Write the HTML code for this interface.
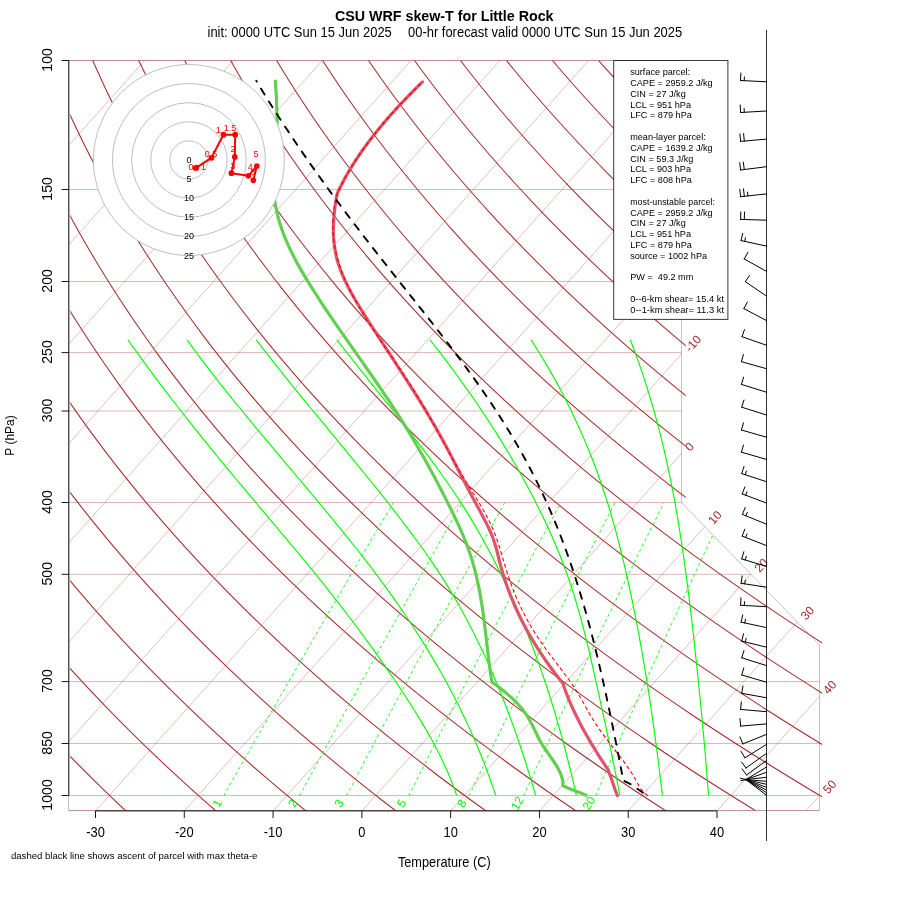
<!DOCTYPE html>
<html><head><meta charset="utf-8"><style>html,body{margin:0;padding:0;background:#fff;}svg{display:block;will-change:transform;}</style></head><body>
<svg width="900" height="900" viewBox="0 0 900 900" font-family="&quot;Liberation Sans&quot;, Arial, sans-serif">
<defs>
<clipPath id="cp"><polygon points="68.50,60.50 681.50,60.50 681.50,502.50 819.50,645.00 819.50,810.60 68.50,810.60"/></clipPath>
<clipPath id="cpi"><polygon points="67.50,59.50 681.50,59.50 681.50,503.10 819.50,645.60 819.50,811.60 67.50,811.60"/></clipPath>
<clipPath id="cpd"><polygon points="70.20,60.50 685.80,60.50 685.80,498.00 822.00,640.50 822.00,810.60 70.20,810.60"/></clipPath>
</defs>
<rect width="900" height="900" fill="#fff"/>
<polygon points="68.50,60.50 681.50,60.50 681.50,502.50 819.50,645.00 819.50,810.60 68.50,810.60" fill="none" stroke="#C4C4C4" stroke-width="1"/>
<g clip-path="url(#cpi)" stroke="#A52A2A" stroke-opacity="0.34" stroke-width="1" fill="none">
<line x1="68.5" y1="60.50" x2="830" y2="60.50"/>
<line x1="68.5" y1="189.50" x2="830" y2="189.50"/>
<line x1="68.5" y1="281.50" x2="830" y2="281.50"/>
<line x1="68.5" y1="352.60" x2="830" y2="352.60"/>
<line x1="68.5" y1="411.00" x2="830" y2="411.00"/>
<line x1="68.5" y1="502.50" x2="830" y2="502.50"/>
<line x1="68.5" y1="574.30" x2="830" y2="574.30"/>
<line x1="68.5" y1="681.60" x2="830" y2="681.60"/>
<line x1="68.5" y1="743.50" x2="830" y2="743.50"/>
<line x1="68.5" y1="795.50" x2="830" y2="795.50"/>
<line x1="68.5" y1="810.60" x2="830" y2="810.60"/>
</g>
<g clip-path="url(#cp)" stroke="#A52A2A" stroke-opacity="0.3" stroke-width="1" fill="none">
<line x1="-614.83" y1="810.97" x2="56.11" y2="60.22"/>
<line x1="-526.04" y1="810.97" x2="144.90" y2="60.22"/>
<line x1="-437.25" y1="810.97" x2="233.69" y2="60.22"/>
<line x1="-348.46" y1="810.97" x2="322.48" y2="60.22"/>
<line x1="-259.67" y1="810.97" x2="411.27" y2="60.22"/>
<line x1="-170.88" y1="810.97" x2="500.06" y2="60.22"/>
<line x1="-82.09" y1="810.97" x2="588.85" y2="60.22"/>
<line x1="6.70" y1="810.97" x2="677.64" y2="60.22"/>
<line x1="95.49" y1="810.97" x2="766.43" y2="60.22"/>
<line x1="184.28" y1="810.97" x2="855.22" y2="60.22"/>
<line x1="273.07" y1="810.97" x2="944.01" y2="60.22"/>
<line x1="361.86" y1="810.97" x2="1032.80" y2="60.22"/>
<line x1="450.65" y1="810.97" x2="1121.59" y2="60.22"/>
<line x1="539.44" y1="810.97" x2="1210.38" y2="60.22"/>
<line x1="628.23" y1="810.97" x2="1299.17" y2="60.22"/>
<line x1="717.02" y1="810.97" x2="1387.96" y2="60.22"/>
<line x1="805.81" y1="810.97" x2="1476.75" y2="60.22"/>
</g>
<g clip-path="url(#cpd)" stroke="#A52A2A" stroke-width="1.05" fill="none">
<path d="M125.83,810.97 L115.76,801.46 L105.86,791.96 L96.10,782.46 L86.51,772.96 L77.07,763.45 L67.77,753.95 L58.63,744.45 L49.64,734.94 L40.80,725.44 L32.11,715.94 L23.56,706.43 L15.15,696.93 L6.89,687.43 L-1.23,677.92 L-9.21,668.42 L-17.05,658.92 L-24.75,649.41 L-32.32,639.91 L-39.74,630.41 L-47.04,620.91 L-54.20,611.40 L-61.22,601.90 L-68.12,592.40 L-74.88,582.89 L-81.52,573.39 L-88.02,563.89 L-94.40,554.38 L-100.66,544.88 L-106.79,535.38 L-112.79,525.87 L-118.67,516.37 L-124.43,506.87 L-130.07,497.36 L-135.59,487.86 L-140.99,478.36 L-146.28,468.85 L-151.44,459.35 L-156.49,449.85 L-161.43,440.35 L-166.25,430.84 L-170.96,421.34 L-175.56,411.84 L-180.04,402.33 L-184.42,392.83 L-188.68,383.33 L-192.84,373.82 L-196.89,364.32 L-200.84,354.82 L-204.68,345.31 L-208.42,335.81 L-212.05,326.31 L-215.58,316.80 L-219.00,307.30 L-222.33,297.80 L-225.55,288.30 L-228.68,278.79 L-231.71,269.29 L-234.64,259.79 L-237.47,250.28 L-240.21,240.78 L-242.85,231.28 L-245.40,221.77 L-247.85,212.27 L-250.21,202.77 L-252.48,193.26 L-254.66,183.76 L-256.75,174.26 L-258.75,164.75 L-260.66,155.25 L-262.48,145.75 L-264.21,136.25 L-265.86,126.74 L-267.42,117.24 L-268.89,107.74 L-270.29,98.23 L-271.59,88.73 L-272.82,79.23 L-273.96,69.72 L-275.02,60.22"/>
<path d="M215.86,810.97 L205.04,801.46 L194.37,791.96 L183.87,782.46 L173.53,772.96 L163.35,763.45 L153.33,753.95 L143.46,744.45 L133.75,734.94 L124.20,725.44 L114.80,715.94 L105.54,706.43 L96.44,696.93 L87.49,687.43 L78.69,677.92 L70.03,668.42 L61.52,658.92 L53.15,649.41 L44.93,639.91 L36.85,630.41 L28.90,620.91 L21.10,611.40 L13.44,601.90 L5.91,592.40 L-1.48,582.89 L-8.74,573.39 L-15.86,563.89 L-22.86,554.38 L-29.72,544.88 L-36.45,535.38 L-43.05,525.87 L-49.52,516.37 L-55.87,506.87 L-62.09,497.36 L-68.18,487.86 L-74.15,478.36 L-80.00,468.85 L-85.73,459.35 L-91.34,449.85 L-96.83,440.35 L-102.20,430.84 L-107.45,421.34 L-112.58,411.84 L-117.60,402.33 L-122.51,392.83 L-127.30,383.33 L-131.98,373.82 L-136.55,364.32 L-141.00,354.82 L-145.35,345.31 L-149.59,335.81 L-153.72,326.31 L-157.74,316.80 L-161.66,307.30 L-165.47,297.80 L-169.18,288.30 L-172.78,278.79 L-176.28,269.29 L-179.68,259.79 L-182.98,250.28 L-186.18,240.78 L-189.28,231.28 L-192.28,221.77 L-195.19,212.27 L-198.00,202.77 L-200.71,193.26 L-203.33,183.76 L-205.85,174.26 L-208.28,164.75 L-210.61,155.25 L-212.86,145.75 L-215.01,136.25 L-217.08,126.74 L-219.05,117.24 L-220.94,107.74 L-222.74,98.23 L-224.45,88.73 L-226.07,79.23 L-227.61,69.72 L-229.06,60.22"/>
<path d="M305.90,810.97 L294.31,801.46 L282.89,791.96 L271.64,782.46 L260.56,772.96 L249.64,763.45 L238.88,753.95 L228.29,744.45 L217.86,734.94 L207.60,725.44 L197.49,715.94 L187.53,706.43 L177.74,696.93 L168.10,687.43 L158.61,677.92 L149.28,668.42 L140.09,658.92 L131.06,649.41 L122.18,639.91 L113.44,630.41 L104.85,620.91 L96.40,611.40 L88.10,601.90 L79.94,592.40 L71.92,582.89 L64.04,573.39 L56.30,563.89 L48.69,554.38 L41.23,544.88 L33.90,535.38 L26.70,525.87 L19.63,516.37 L12.70,506.87 L5.90,497.36 L-0.77,487.86 L-7.32,478.36 L-13.73,468.85 L-20.02,459.35 L-26.19,449.85 L-32.23,440.35 L-38.14,430.84 L-43.94,421.34 L-49.61,411.84 L-55.16,402.33 L-60.60,392.83 L-65.92,383.33 L-71.11,373.82 L-76.20,364.32 L-81.17,354.82 L-86.02,345.31 L-90.76,335.81 L-95.39,326.31 L-99.91,316.80 L-104.31,307.30 L-108.61,297.80 L-112.80,288.30 L-116.88,278.79 L-120.86,269.29 L-124.73,259.79 L-128.49,250.28 L-132.16,240.78 L-135.71,231.28 L-139.17,221.77 L-142.52,212.27 L-145.78,202.77 L-148.93,193.26 L-151.99,183.76 L-154.95,174.26 L-157.81,164.75 L-160.57,155.25 L-163.24,145.75 L-165.82,136.25 L-168.30,126.74 L-170.69,117.24 L-172.98,107.74 L-175.19,98.23 L-177.30,88.73 L-179.32,79.23 L-181.26,69.72 L-183.10,60.22"/>
<path d="M395.94,810.97 L383.59,801.46 L371.41,791.96 L359.41,782.46 L347.58,772.96 L335.92,763.45 L324.44,753.95 L313.12,744.45 L301.97,734.94 L290.99,725.44 L280.18,715.94 L269.52,706.43 L259.03,696.93 L248.70,687.43 L238.53,677.92 L228.52,668.42 L218.67,658.92 L208.97,649.41 L199.42,639.91 L190.03,630.41 L180.79,620.91 L171.70,611.40 L162.76,601.90 L153.96,592.40 L145.32,582.89 L136.82,573.39 L128.46,563.89 L120.24,554.38 L112.17,544.88 L104.24,535.38 L96.44,525.87 L88.79,516.37 L81.27,506.87 L73.89,497.36 L66.64,487.86 L59.52,478.36 L52.54,468.85 L45.69,459.35 L38.97,449.85 L32.38,440.35 L25.91,430.84 L19.57,421.34 L13.36,411.84 L7.27,402.33 L1.31,392.83 L-4.53,383.33 L-10.25,373.82 L-15.85,364.32 L-21.33,354.82 L-26.69,345.31 L-31.93,335.81 L-37.06,326.31 L-42.07,316.80 L-46.97,307.30 L-51.76,297.80 L-56.43,288.30 L-60.99,278.79 L-65.44,269.29 L-69.78,259.79 L-74.01,250.28 L-78.13,240.78 L-82.15,231.28 L-86.06,221.77 L-89.86,212.27 L-93.56,202.77 L-97.16,193.26 L-100.65,183.76 L-104.05,174.26 L-107.34,164.75 L-110.53,155.25 L-113.62,145.75 L-116.62,136.25 L-119.52,126.74 L-122.32,117.24 L-125.02,107.74 L-127.64,98.23 L-130.15,88.73 L-132.57,79.23 L-134.91,69.72 L-137.14,60.22"/>
<path d="M485.98,810.97 L472.86,801.46 L459.93,791.96 L447.17,782.46 L434.60,772.96 L422.21,763.45 L409.99,753.95 L397.95,744.45 L386.08,734.94 L374.39,725.44 L362.87,715.94 L351.51,706.43 L340.33,696.93 L329.31,687.43 L318.46,677.92 L307.77,668.42 L297.24,658.92 L286.87,649.41 L276.67,639.91 L266.62,630.41 L256.73,620.91 L247.00,611.40 L237.42,601.90 L227.99,592.40 L218.72,582.89 L209.59,573.39 L200.62,563.89 L191.79,554.38 L183.11,544.88 L174.58,535.38 L166.19,525.87 L157.94,516.37 L149.84,506.87 L141.87,497.36 L134.05,487.86 L126.36,478.36 L118.81,468.85 L111.40,459.35 L104.12,449.85 L96.98,440.35 L89.97,430.84 L83.09,421.34 L76.33,411.84 L69.71,402.33 L63.22,392.83 L56.85,383.33 L50.61,373.82 L44.50,364.32 L38.51,354.82 L32.64,345.31 L26.89,335.81 L21.27,326.31 L15.76,316.80 L10.37,307.30 L5.10,297.80 L-0.05,288.30 L-5.09,278.79 L-10.01,269.29 L-14.82,259.79 L-19.52,250.28 L-24.10,240.78 L-28.58,231.28 L-32.94,221.77 L-37.20,212.27 L-41.34,202.77 L-45.38,193.26 L-49.32,183.76 L-53.14,174.26 L-56.87,164.75 L-60.49,155.25 L-64.01,145.75 L-67.42,136.25 L-70.74,126.74 L-73.95,117.24 L-77.07,107.74 L-80.08,98.23 L-83.00,88.73 L-85.83,79.23 L-88.55,69.72 L-91.19,60.22"/>
<path d="M576.02,810.97 L562.13,801.46 L548.44,791.96 L534.94,782.46 L521.63,772.96 L508.49,763.45 L495.55,753.95 L482.78,744.45 L470.19,734.94 L457.79,725.44 L445.56,715.94 L433.50,706.43 L421.62,696.93 L409.91,687.43 L398.38,677.92 L387.01,668.42 L375.81,658.92 L364.78,649.41 L353.92,639.91 L343.21,630.41 L332.67,620.91 L322.30,611.40 L312.08,601.90 L302.02,592.40 L292.12,582.89 L282.37,573.39 L272.78,563.89 L263.34,554.38 L254.06,544.88 L244.92,535.38 L235.93,525.87 L227.10,516.37 L218.41,506.87 L209.86,497.36 L201.46,487.86 L193.20,478.36 L185.09,468.85 L177.11,459.35 L169.28,449.85 L161.58,440.35 L154.02,430.84 L146.60,421.34 L139.31,411.84 L132.15,402.33 L125.13,392.83 L118.24,383.33 L111.48,373.82 L104.85,364.32 L98.35,354.82 L91.97,345.31 L85.72,335.81 L79.59,326.31 L73.59,316.80 L67.72,307.30 L61.96,297.80 L56.32,288.30 L50.81,278.79 L45.41,269.29 L40.13,259.79 L34.97,250.28 L29.92,240.78 L24.99,231.28 L20.17,221.77 L15.47,212.27 L10.87,202.77 L6.39,193.26 L2.02,183.76 L-2.24,174.26 L-6.40,164.75 L-10.45,155.25 L-14.39,145.75 L-18.23,136.25 L-21.96,126.74 L-25.59,117.24 L-29.11,107.74 L-32.53,98.23 L-35.86,88.73 L-39.08,79.23 L-42.20,69.72 L-45.23,60.22"/>
<path d="M666.05,810.97 L651.41,801.46 L636.96,791.96 L622.71,782.46 L608.65,772.96 L594.78,763.45 L581.10,753.95 L567.61,744.45 L554.30,734.94 L541.18,725.44 L528.25,715.94 L515.49,706.43 L502.92,696.93 L490.52,687.43 L478.30,677.92 L466.26,668.42 L454.39,658.92 L442.69,649.41 L431.16,639.91 L419.81,630.41 L408.62,620.91 L397.60,611.40 L386.74,601.90 L376.05,592.40 L365.52,582.89 L355.15,573.39 L344.94,563.89 L334.89,554.38 L325.00,544.88 L315.26,535.38 L305.68,525.87 L296.25,516.37 L286.97,506.87 L277.85,497.36 L268.87,487.86 L260.04,478.36 L251.36,468.85 L242.82,459.35 L234.43,449.85 L226.18,440.35 L218.07,430.84 L210.11,421.34 L202.28,411.84 L194.59,402.33 L187.04,392.83 L179.62,383.33 L172.34,373.82 L165.20,364.32 L158.18,354.82 L151.30,345.31 L144.55,335.81 L137.92,326.31 L131.43,316.80 L125.06,307.30 L118.82,297.80 L112.70,288.30 L106.71,278.79 L100.84,269.29 L95.09,259.79 L89.46,250.28 L83.95,240.78 L78.56,231.28 L73.29,221.77 L68.13,212.27 L63.09,202.77 L58.17,193.26 L53.36,183.76 L48.66,174.26 L44.07,164.75 L39.59,155.25 L35.23,145.75 L30.97,136.25 L26.82,126.74 L22.78,117.24 L18.85,107.74 L15.02,98.23 L11.29,88.73 L7.67,79.23 L4.15,69.72 L0.73,60.22"/>
<path d="M756.09,810.97 L740.68,801.46 L725.48,791.96 L710.48,782.46 L695.67,772.96 L681.07,763.45 L666.66,753.95 L652.44,744.45 L638.41,734.94 L624.58,725.44 L610.94,715.94 L597.48,706.43 L584.21,696.93 L571.12,687.43 L558.22,677.92 L545.50,668.42 L532.96,658.92 L520.60,649.41 L508.41,639.91 L496.40,630.41 L484.56,620.91 L472.89,611.40 L461.40,601.90 L450.08,592.40 L438.92,582.89 L427.93,573.39 L417.10,563.89 L406.44,554.38 L395.94,544.88 L385.60,535.38 L375.43,525.87 L365.41,516.37 L355.54,506.87 L345.83,497.36 L336.28,487.86 L326.88,478.36 L317.63,468.85 L308.53,459.35 L299.58,449.85 L290.78,440.35 L282.13,430.84 L273.62,421.34 L265.25,411.84 L257.03,402.33 L248.95,392.83 L241.01,383.33 L233.21,373.82 L225.55,364.32 L218.02,354.82 L210.63,345.31 L203.37,335.81 L196.25,326.31 L189.26,316.80 L182.40,307.30 L175.67,297.80 L169.08,288.30 L162.60,278.79 L156.26,269.29 L150.04,259.79 L143.95,250.28 L137.98,240.78 L132.13,231.28 L126.40,221.77 L120.80,212.27 L115.31,202.77 L109.94,193.26 L104.69,183.76 L99.56,174.26 L94.54,164.75 L89.64,155.25 L84.85,145.75 L80.17,136.25 L75.60,126.74 L71.15,117.24 L66.80,107.74 L62.57,98.23 L58.44,88.73 L54.42,79.23 L50.50,69.72 L46.69,60.22"/>
<path d="M846.13,810.97 L829.96,801.46 L814.00,791.96 L798.24,782.46 L782.70,772.96 L767.35,763.45 L752.21,753.95 L737.27,744.45 L722.52,734.94 L707.98,725.44 L693.63,715.94 L679.47,706.43 L665.51,696.93 L651.73,687.43 L638.14,677.92 L624.75,668.42 L611.53,658.92 L598.50,649.41 L585.66,639.91 L572.99,630.41 L560.50,620.91 L548.19,611.40 L536.06,601.90 L524.10,592.40 L512.32,582.89 L500.71,573.39 L489.26,563.89 L477.99,554.38 L466.89,544.88 L455.95,535.38 L445.17,525.87 L434.56,516.37 L424.11,506.87 L413.82,497.36 L403.69,487.86 L393.72,478.36 L383.90,468.85 L374.24,459.35 L364.74,449.85 L355.38,440.35 L346.18,430.84 L337.13,421.34 L328.23,411.84 L319.47,402.33 L310.86,392.83 L302.39,383.33 L294.07,373.82 L285.89,364.32 L277.86,354.82 L269.96,345.31 L262.20,335.81 L254.58,326.31 L247.10,316.80 L239.75,307.30 L232.53,297.80 L225.45,288.30 L218.50,278.79 L211.68,269.29 L204.99,259.79 L198.44,250.28 L192.00,240.78 L185.70,231.28 L179.52,221.77 L173.46,212.27 L167.53,202.77 L161.72,193.26 L156.03,183.76 L150.46,174.26 L145.01,164.75 L139.68,155.25 L134.46,145.75 L129.37,136.25 L124.38,126.74 L119.51,117.24 L114.76,107.74 L110.12,98.23 L105.58,88.73 L101.16,79.23 L96.85,69.72 L92.65,60.22"/>
<path d="M936.17,810.97 L919.23,801.46 L902.52,791.96 L886.01,782.46 L869.72,772.96 L853.64,763.45 L837.76,753.95 L822.10,744.45 L806.63,734.94 L791.38,725.44 L776.32,715.94 L761.46,706.43 L746.80,696.93 L732.34,687.43 L718.07,677.92 L703.99,668.42 L690.10,658.92 L676.41,649.41 L662.90,639.91 L649.58,630.41 L636.44,620.91 L623.49,611.40 L610.72,601.90 L598.13,592.40 L585.72,582.89 L573.48,573.39 L561.42,563.89 L549.54,554.38 L537.83,544.88 L526.29,535.38 L514.92,525.87 L503.71,516.37 L492.68,506.87 L481.81,497.36 L471.10,487.86 L460.56,478.36 L450.18,468.85 L439.95,459.35 L429.89,449.85 L419.99,440.35 L410.24,430.84 L400.64,421.34 L391.20,411.84 L381.91,402.33 L372.77,392.83 L363.78,383.33 L354.94,373.82 L346.24,364.32 L337.69,354.82 L329.29,345.31 L321.03,335.81 L312.91,326.31 L304.93,316.80 L297.09,307.30 L289.39,297.80 L281.83,288.30 L274.40,278.79 L267.11,269.29 L259.95,259.79 L252.92,250.28 L246.03,240.78 L239.27,231.28 L232.63,221.77 L226.12,212.27 L219.75,202.77 L213.49,193.26 L207.36,183.76 L201.36,174.26 L195.48,164.75 L189.72,155.25 L184.08,145.75 L178.56,136.25 L173.16,126.74 L167.88,117.24 L162.72,107.74 L157.67,98.23 L152.73,88.73 L147.91,79.23 L143.20,69.72 L138.61,60.22"/>
<path d="M1026.20,810.97 L1008.51,801.46 L991.03,791.96 L973.78,782.46 L956.74,772.96 L939.92,763.45 L923.32,753.95 L906.93,744.45 L890.75,734.94 L874.77,725.44 L859.01,715.94 L843.45,706.43 L828.09,696.93 L812.94,687.43 L797.99,677.92 L783.23,668.42 L768.68,658.92 L754.32,649.41 L740.15,639.91 L726.17,630.41 L712.39,620.91 L698.79,611.40 L685.38,601.90 L672.16,592.40 L659.12,582.89 L646.26,573.39 L633.59,563.89 L621.09,554.38 L608.77,544.88 L596.63,535.38 L584.66,525.87 L572.87,516.37 L561.25,506.87 L549.79,497.36 L538.51,487.86 L527.40,478.36 L516.45,468.85 L505.67,459.35 L495.05,449.85 L484.59,440.35 L474.29,430.84 L464.15,421.34 L454.17,411.84 L444.35,402.33 L434.68,392.83 L425.16,383.33 L415.80,373.82 L406.59,364.32 L397.53,354.82 L388.62,345.31 L379.85,335.81 L371.24,326.31 L362.76,316.80 L354.43,307.30 L346.25,297.80 L338.20,288.30 L330.30,278.79 L322.53,269.29 L314.90,259.79 L307.41,250.28 L300.06,240.78 L292.83,231.28 L285.75,221.77 L278.79,212.27 L271.96,202.77 L265.27,193.26 L258.70,183.76 L252.26,174.26 L245.95,164.75 L239.76,155.25 L233.70,145.75 L227.76,136.25 L221.94,126.74 L216.25,117.24 L210.67,107.74 L205.22,98.23 L199.88,88.73 L194.66,79.23 L189.55,69.72 L184.56,60.22"/>
<path d="M1116.24,810.97 L1097.78,801.46 L1079.55,791.96 L1061.55,782.46 L1043.77,772.96 L1026.21,763.45 L1008.87,753.95 L991.76,744.45 L974.86,734.94 L958.17,725.44 L941.70,715.94 L925.44,706.43 L909.39,696.93 L893.55,687.43 L877.91,677.92 L862.48,668.42 L847.25,658.92 L832.22,649.41 L817.39,639.91 L802.76,630.41 L788.33,620.91 L774.09,611.40 L760.04,601.90 L746.19,592.40 L732.52,582.89 L719.04,573.39 L705.75,563.89 L692.64,554.38 L679.71,544.88 L666.97,535.38 L654.41,525.87 L642.02,516.37 L629.81,506.87 L617.78,497.36 L605.92,487.86 L594.24,478.36 L582.72,468.85 L571.38,459.35 L560.20,449.85 L549.19,440.35 L538.34,430.84 L527.66,421.34 L517.14,411.84 L506.79,402.33 L496.59,392.83 L486.55,383.33 L476.67,373.82 L466.94,364.32 L457.37,354.82 L447.95,345.31 L438.68,335.81 L429.56,326.31 L420.60,316.80 L411.78,307.30 L403.11,297.80 L394.58,288.30 L386.20,278.79 L377.96,269.29 L369.86,259.79 L361.90,250.28 L354.08,240.78 L346.40,231.28 L338.86,221.77 L331.45,212.27 L324.18,202.77 L317.04,193.26 L310.04,183.76 L303.16,174.26 L296.42,164.75 L289.80,155.25 L283.32,145.75 L276.96,136.25 L270.72,126.74 L264.61,117.24 L258.63,107.74 L252.77,98.23 L247.03,88.73 L241.40,79.23 L235.90,69.72 L230.52,60.22"/>
<path d="M1206.28,810.97 L1187.06,801.46 L1168.07,791.96 L1149.31,782.46 L1130.79,772.96 L1112.50,763.45 L1094.43,753.95 L1076.58,744.45 L1058.97,734.94 L1041.57,725.44 L1024.39,715.94 L1007.43,706.43 L990.68,696.93 L974.15,687.43 L957.83,677.92 L941.72,668.42 L925.82,658.92 L910.13,649.41 L894.64,639.91 L879.36,630.41 L864.27,620.91 L849.39,611.40 L834.70,601.90 L820.21,592.40 L805.92,582.89 L791.82,573.39 L777.91,563.89 L764.19,554.38 L750.66,544.88 L737.31,535.38 L724.15,525.87 L711.18,516.37 L698.38,506.87 L685.77,497.36 L673.33,487.86 L661.08,478.36 L648.99,468.85 L637.09,459.35 L625.35,449.85 L613.79,440.35 L602.40,430.84 L591.17,421.34 L580.12,411.84 L569.22,402.33 L558.50,392.83 L547.93,383.33 L537.53,373.82 L527.29,364.32 L517.20,354.82 L507.28,345.31 L497.51,335.81 L487.89,326.31 L478.43,316.80 L469.12,307.30 L459.96,297.80 L450.95,288.30 L442.09,278.79 L433.38,269.29 L424.81,259.79 L416.39,250.28 L408.11,240.78 L399.97,231.28 L391.97,221.77 L384.12,212.27 L376.40,202.77 L368.82,193.26 L361.37,183.76 L354.06,174.26 L346.89,164.75 L339.85,155.25 L332.94,145.75 L326.15,136.25 L319.50,126.74 L312.98,117.24 L306.59,107.74 L300.32,98.23 L294.17,88.73 L288.15,79.23 L282.26,69.72 L276.48,60.22"/>
<path d="M1296.32,810.97 L1276.33,801.46 L1256.59,791.96 L1237.08,782.46 L1217.81,772.96 L1198.78,763.45 L1179.98,753.95 L1161.41,744.45 L1143.08,734.94 L1124.96,725.44 L1107.08,715.94 L1089.42,706.43 L1071.98,696.93 L1054.76,687.43 L1037.75,677.92 L1020.97,668.42 L1004.40,658.92 L988.04,649.41 L971.89,639.91 L955.95,630.41 L940.21,620.91 L924.69,611.40 L909.36,601.90 L894.24,592.40 L879.32,582.89 L864.60,573.39 L850.07,563.89 L835.74,554.38 L821.60,544.88 L807.65,535.38 L793.90,525.87 L780.33,516.37 L766.95,506.87 L753.75,497.36 L740.74,487.86 L727.91,478.36 L715.27,468.85 L702.80,459.35 L690.51,449.85 L678.39,440.35 L666.45,430.84 L654.68,421.34 L643.09,411.84 L631.66,402.33 L620.41,392.83 L609.32,383.33 L598.39,373.82 L587.64,364.32 L577.04,354.82 L566.61,345.31 L556.33,335.81 L546.22,326.31 L536.26,316.80 L526.46,307.30 L516.82,297.80 L507.33,288.30 L497.99,278.79 L488.80,269.29 L479.77,259.79 L470.88,250.28 L462.13,240.78 L453.54,231.28 L445.09,221.77 L436.78,212.27 L428.62,202.77 L420.59,193.26 L412.71,183.76 L404.97,174.26 L397.36,164.75 L389.89,155.25 L382.55,145.75 L375.35,136.25 L368.28,126.74 L361.35,117.24 L354.54,107.74 L347.87,98.23 L341.32,88.73 L334.90,79.23 L328.61,69.72 L322.44,60.22"/>
<path d="M1386.35,810.97 L1365.61,801.46 L1345.10,791.96 L1324.85,782.46 L1304.84,772.96 L1285.07,763.45 L1265.54,753.95 L1246.24,744.45 L1227.19,734.94 L1208.36,725.44 L1189.77,715.94 L1171.41,706.43 L1153.27,696.93 L1135.36,687.43 L1117.68,677.92 L1100.21,668.42 L1082.97,658.92 L1065.94,649.41 L1049.13,639.91 L1032.54,630.41 L1016.16,620.91 L999.99,611.40 L984.02,601.90 L968.27,592.40 L952.72,582.89 L937.37,573.39 L922.23,563.89 L907.29,554.38 L892.54,544.88 L878.00,535.38 L863.64,525.87 L849.48,516.37 L835.52,506.87 L821.74,497.36 L808.15,487.86 L794.75,478.36 L781.54,468.85 L768.51,459.35 L755.66,449.85 L742.99,440.35 L730.50,430.84 L718.19,421.34 L706.06,411.84 L694.10,402.33 L682.32,392.83 L670.70,383.33 L659.26,373.82 L647.98,364.32 L636.88,354.82 L625.94,345.31 L615.16,335.81 L604.55,326.31 L594.10,316.80 L583.81,307.30 L573.68,297.80 L563.70,288.30 L553.89,278.79 L544.23,269.29 L534.72,259.79 L525.36,250.28 L516.16,240.78 L507.11,231.28 L498.20,221.77 L489.45,212.27 L480.83,202.77 L472.37,193.26 L464.05,183.76 L455.87,174.26 L447.83,164.75 L439.93,155.25 L432.17,145.75 L424.55,136.25 L417.06,126.74 L409.71,117.24 L402.50,107.74 L395.42,98.23 L388.47,88.73 L381.65,79.23 L374.96,69.72 L368.40,60.22"/>
<path d="M1476.39,810.97 L1454.88,801.46 L1433.62,791.96 L1412.62,782.46 L1391.86,772.96 L1371.35,763.45 L1351.09,753.95 L1331.07,744.45 L1311.30,734.94 L1291.76,725.44 L1272.46,715.94 L1253.40,706.43 L1234.57,696.93 L1215.97,687.43 L1197.60,677.92 L1179.46,668.42 L1161.54,658.92 L1143.85,649.41 L1126.38,639.91 L1109.13,630.41 L1092.10,620.91 L1075.28,611.40 L1058.68,601.90 L1042.30,592.40 L1026.12,582.89 L1010.15,573.39 L994.39,563.89 L978.84,554.38 L963.49,544.88 L948.34,535.38 L933.39,525.87 L918.64,516.37 L904.09,506.87 L889.73,497.36 L875.56,487.86 L861.59,478.36 L847.81,468.85 L834.22,459.35 L820.81,449.85 L807.59,440.35 L794.56,430.84 L781.71,421.34 L769.03,411.84 L756.54,402.33 L744.23,392.83 L732.09,383.33 L720.12,373.82 L708.33,364.32 L696.72,354.82 L685.27,345.31 L673.99,335.81 L662.88,326.31 L651.93,316.80 L641.15,307.30 L630.54,297.80 L620.08,288.30 L609.79,278.79 L599.65,269.29 L589.67,259.79 L579.85,250.28 L570.19,240.78 L560.68,231.28 L551.32,221.77 L542.11,212.27 L533.05,202.77 L524.14,193.26 L515.38,183.76 L506.77,174.26 L498.30,164.75 L489.97,155.25 L481.79,145.75 L473.75,136.25 L465.84,126.74 L458.08,117.24 L450.46,107.74 L442.97,98.23 L435.61,88.73 L428.39,79.23 L421.31,69.72 L414.36,60.22"/>
<path d="M1566.43,810.97 L1544.15,801.46 L1522.14,791.96 L1500.38,782.46 L1478.88,772.96 L1457.64,763.45 L1436.65,753.95 L1415.90,744.45 L1395.41,734.94 L1375.16,725.44 L1355.15,715.94 L1335.39,706.43 L1315.86,696.93 L1296.57,687.43 L1277.52,677.92 L1258.70,668.42 L1240.11,658.92 L1221.76,649.41 L1203.63,639.91 L1185.72,630.41 L1168.04,620.91 L1150.58,611.40 L1133.34,601.90 L1116.32,592.40 L1099.52,582.89 L1082.93,573.39 L1066.55,563.89 L1050.39,554.38 L1034.43,544.88 L1018.68,535.38 L1003.13,525.87 L987.79,516.37 L972.65,506.87 L957.72,497.36 L942.98,487.86 L928.43,478.36 L914.08,468.85 L899.93,459.35 L885.97,449.85 L872.20,440.35 L858.61,430.84 L845.22,421.34 L832.01,411.84 L818.98,402.33 L806.14,392.83 L793.47,383.33 L780.99,373.82 L768.68,364.32 L756.55,354.82 L744.60,345.31 L732.82,335.81 L721.21,326.31 L709.77,316.80 L698.50,307.30 L687.39,297.80 L676.46,288.30 L665.68,278.79 L655.07,269.29 L644.63,259.79 L634.34,250.28 L624.21,240.78 L614.24,231.28 L604.43,221.77 L594.77,212.27 L585.27,202.77 L575.92,193.26 L566.72,183.76 L557.67,174.26 L548.77,164.75 L540.01,155.25 L531.41,145.75 L522.94,136.25 L514.62,126.74 L506.45,117.24 L498.41,107.74 L490.52,98.23 L482.76,88.73 L475.14,79.23 L467.66,69.72 L460.31,60.22"/>
<path d="M1656.47,810.97 L1633.43,801.46 L1610.66,791.96 L1588.15,782.46 L1565.91,772.96 L1543.92,763.45 L1522.20,753.95 L1500.73,744.45 L1479.52,734.94 L1458.55,725.44 L1437.84,715.94 L1417.37,706.43 L1397.15,696.93 L1377.18,687.43 L1357.44,677.92 L1337.95,668.42 L1318.69,658.92 L1299.66,649.41 L1280.87,639.91 L1262.31,630.41 L1243.98,620.91 L1225.88,611.40 L1208.01,601.90 L1190.35,592.40 L1172.92,582.89 L1155.71,573.39 L1138.71,563.89 L1121.94,554.38 L1105.37,544.88 L1089.02,535.38 L1072.88,525.87 L1056.95,516.37 L1041.22,506.87 L1025.70,497.36 L1010.39,487.86 L995.27,478.36 L980.36,468.85 L965.64,459.35 L951.12,449.85 L936.80,440.35 L922.67,430.84 L908.73,421.34 L894.98,411.84 L881.42,402.33 L868.04,392.83 L854.86,383.33 L841.85,373.82 L829.03,364.32 L816.39,354.82 L803.93,345.31 L791.64,335.81 L779.53,326.31 L767.60,316.80 L755.84,307.30 L744.25,297.80 L732.83,288.30 L721.58,278.79 L710.50,269.29 L699.58,259.79 L688.83,250.28 L678.24,240.78 L667.81,231.28 L657.55,221.77 L647.44,212.27 L637.49,202.77 L627.69,193.26 L618.06,183.76 L608.57,174.26 L599.24,164.75 L590.06,155.25 L581.02,145.75 L572.14,136.25 L563.40,126.74 L554.81,117.24 L546.37,107.74 L538.07,98.23 L529.91,88.73 L521.89,79.23 L514.01,69.72 L506.27,60.22"/>
<path d="M1746.50,810.97 L1722.70,801.46 L1699.17,791.96 L1675.92,782.46 L1652.93,772.96 L1630.21,763.45 L1607.75,753.95 L1585.56,744.45 L1563.63,734.94 L1541.95,725.44 L1520.53,715.94 L1499.36,706.43 L1478.45,696.93 L1457.78,687.43 L1437.36,677.92 L1417.19,668.42 L1397.26,658.92 L1377.57,649.41 L1358.12,639.91 L1338.91,630.41 L1319.93,620.91 L1301.18,611.40 L1282.67,601.90 L1264.38,592.40 L1246.32,582.89 L1228.49,573.39 L1210.87,563.89 L1193.48,554.38 L1176.31,544.88 L1159.36,535.38 L1142.62,525.87 L1126.10,516.37 L1109.79,506.87 L1093.69,497.36 L1077.80,487.86 L1062.11,478.36 L1046.63,468.85 L1031.35,459.35 L1016.28,449.85 L1001.40,440.35 L986.72,430.84 L972.24,421.34 L957.95,411.84 L943.86,402.33 L929.95,392.83 L916.24,383.33 L902.72,373.82 L889.38,364.32 L876.23,354.82 L863.26,345.31 L850.47,335.81 L837.86,326.31 L825.43,316.80 L813.18,307.30 L801.11,297.80 L789.21,288.30 L777.48,278.79 L765.92,269.29 L754.54,259.79 L743.32,250.28 L732.27,240.78 L721.38,231.28 L710.66,221.77 L700.10,212.27 L689.71,202.77 L679.47,193.26 L669.39,183.76 L659.47,174.26 L649.71,164.75 L640.10,155.25 L630.64,145.75 L621.34,136.25 L612.18,126.74 L603.18,117.24 L594.33,107.74 L585.62,98.23 L577.05,88.73 L568.64,79.23 L560.36,69.72 L552.23,60.22"/>
<path d="M1836.54,810.97 L1811.98,801.46 L1787.69,791.96 L1763.69,782.46 L1739.95,772.96 L1716.50,763.45 L1693.31,753.95 L1670.39,744.45 L1647.74,734.94 L1625.35,725.44 L1603.22,715.94 L1581.35,706.43 L1559.74,696.93 L1538.39,687.43 L1517.29,677.92 L1496.44,668.42 L1475.83,658.92 L1455.48,649.41 L1435.37,639.91 L1415.50,630.41 L1395.87,620.91 L1376.48,611.40 L1357.33,601.90 L1338.41,592.40 L1319.72,582.89 L1301.26,573.39 L1283.04,563.89 L1265.03,554.38 L1247.26,544.88 L1229.70,535.38 L1212.37,525.87 L1195.26,516.37 L1178.36,506.87 L1161.68,497.36 L1145.21,487.86 L1128.95,478.36 L1112.90,468.85 L1097.06,459.35 L1081.43,449.85 L1066.00,440.35 L1050.77,430.84 L1035.75,421.34 L1020.92,411.84 L1006.30,402.33 L991.86,392.83 L977.63,383.33 L963.58,373.82 L949.73,364.32 L936.06,354.82 L922.59,345.31 L909.30,335.81 L896.19,326.31 L883.27,316.80 L870.53,307.30 L857.97,297.80 L845.58,288.30 L833.38,278.79 L821.35,269.29 L809.49,259.79 L797.81,250.28 L786.29,240.78 L774.95,231.28 L763.78,221.77 L752.77,212.27 L741.92,202.77 L731.24,193.26 L720.73,183.76 L710.37,174.26 L700.18,164.75 L690.14,155.25 L680.26,145.75 L670.53,136.25 L660.96,126.74 L651.55,117.24 L642.28,107.74 L633.17,98.23 L624.20,88.73 L615.38,79.23 L606.71,69.72 L598.19,60.22"/>
<path d="M1926.58,810.97 L1901.25,801.46 L1876.21,791.96 L1851.45,782.46 L1826.98,772.96 L1802.78,763.45 L1778.86,753.95 L1755.22,744.45 L1731.85,734.94 L1708.75,725.44 L1685.91,715.94 L1663.34,706.43 L1641.04,696.93 L1618.99,687.43 L1597.21,677.92 L1575.68,668.42 L1554.41,658.92 L1533.38,649.41 L1512.61,639.91 L1492.09,630.41 L1471.81,620.91 L1451.78,611.40 L1431.99,601.90 L1412.43,592.40 L1393.12,582.89 L1374.04,573.39 L1355.20,563.89 L1336.58,554.38 L1318.20,544.88 L1300.04,535.38 L1282.12,525.87 L1264.41,516.37 L1246.93,506.87 L1229.66,497.36 L1212.62,487.86 L1195.79,478.36 L1179.17,468.85 L1162.77,459.35 L1146.58,449.85 L1130.60,440.35 L1114.83,430.84 L1099.26,421.34 L1083.90,411.84 L1068.73,402.33 L1053.77,392.83 L1039.01,383.33 L1024.45,373.82 L1010.08,364.32 L995.90,354.82 L981.92,345.31 L968.12,335.81 L954.52,326.31 L941.10,316.80 L927.87,307.30 L914.82,297.80 L901.96,288.30 L889.27,278.79 L876.77,269.29 L864.44,259.79 L852.29,250.28 L840.32,240.78 L828.52,231.28 L816.89,221.77 L805.43,212.27 L794.14,202.77 L783.02,193.26 L772.06,183.76 L761.27,174.26 L750.65,164.75 L740.18,155.25 L729.88,145.75 L719.73,136.25 L709.74,126.74 L699.91,117.24 L690.24,107.74 L680.72,98.23 L671.35,88.73 L662.13,79.23 L653.07,69.72 L644.15,60.22"/>
</g>
<g clip-path="url(#cp)" stroke="#00FF00" stroke-width="0.9" fill="none" stroke-dasharray="2.2,3.8" stroke-linecap="round">
<path d="M224.03,795.39 L227.79,788.71 L231.64,781.90 L235.57,774.93 L239.60,767.81 L243.73,760.52 L247.96,753.07 L252.29,745.44 L256.74,737.62 L261.31,729.60 L266.00,721.38 L270.82,712.94 L275.78,704.27 L280.89,695.36 L286.16,686.19 L291.58,676.76 L297.19,667.03 L302.98,657.00 L308.96,646.65 L315.16,635.94 L321.59,624.87 L328.26,613.40 L335.20,601.50 L342.41,589.13 L349.93,576.28 L357.79,562.88 L366.01,548.89 L374.62,534.27 L383.67,518.94 L393.21,502.84"/>
<path d="M299.79,795.39 L303.38,788.71 L307.06,781.90 L310.82,774.93 L314.66,767.81 L318.61,760.52 L322.65,753.07 L326.79,745.44 L331.05,737.62 L335.42,729.60 L339.91,721.38 L344.52,712.94 L349.27,704.27 L354.16,695.36 L359.20,686.19 L364.41,676.76 L369.78,667.03 L375.33,657.00 L381.07,646.65 L387.02,635.94 L393.18,624.87 L399.59,613.40 L406.24,601.50 L413.18,589.13 L420.41,576.28 L427.96,562.88 L435.86,548.89 L444.15,534.27 L452.86,518.94 L462.04,502.84"/>
<path d="M346.78,795.39 L350.26,788.71 L353.82,781.90 L357.46,774.93 L361.20,767.81 L365.02,760.52 L368.94,753.07 L372.97,745.44 L377.09,737.62 L381.33,729.60 L385.69,721.38 L390.18,712.94 L394.79,704.27 L399.54,695.36 L404.44,686.19 L409.50,676.76 L414.72,667.03 L420.11,657.00 L425.70,646.65 L431.48,635.94 L437.48,624.87 L443.72,613.40 L450.20,601.50 L456.95,589.13 L463.99,576.28 L471.35,562.88 L479.05,548.89 L487.13,534.27 L495.62,518.94 L504.57,502.84"/>
<path d="M408.97,795.39 L412.30,788.71 L415.71,781.90 L419.20,774.93 L422.78,767.81 L426.44,760.52 L430.20,753.07 L434.06,745.44 L438.01,737.62 L442.08,729.60 L446.26,721.38 L450.56,712.94 L454.99,704.27 L459.55,695.36 L464.26,686.19 L469.12,676.76 L474.13,667.03 L479.32,657.00 L484.69,646.65 L490.25,635.94 L496.03,624.87 L502.03,613.40 L508.27,601.50 L514.77,589.13 L521.55,576.28 L528.65,562.88 L536.07,548.89 L543.87,534.27 L552.06,518.94 L560.70,502.84"/>
<path d="M469.31,795.39 L472.49,788.71 L475.75,781.90 L479.08,774.93 L482.50,767.81 L486.00,760.52 L489.60,753.07 L493.29,745.44 L497.08,737.62 L500.97,729.60 L504.97,721.38 L509.09,712.94 L513.34,704.27 L517.71,695.36 L522.22,686.19 L526.88,676.76 L531.69,667.03 L536.67,657.00 L541.82,646.65 L547.17,635.94 L552.72,624.87 L558.48,613.40 L564.48,601.50 L570.74,589.13 L577.26,576.28 L584.09,562.88 L591.24,548.89 L598.75,534.27 L606.65,518.94 L614.98,502.84"/>
<path d="M523.83,795.39 L526.88,788.71 L529.99,781.90 L533.19,774.93 L536.46,767.81 L539.81,760.52 L543.25,753.07 L546.79,745.44 L550.42,737.62 L554.15,729.60 L557.99,721.38 L561.94,712.94 L566.01,704.27 L570.21,695.36 L574.54,686.19 L579.01,676.76 L583.64,667.03 L588.42,657.00 L593.38,646.65 L598.52,635.94 L603.86,624.87 L609.41,613.40 L615.18,601.50 L621.21,589.13 L627.50,576.28 L634.08,562.88 L640.98,548.89 L648.22,534.27 L655.85,518.94 L663.90,502.84"/>
<path d="M595.79,795.39 L598.64,788.71 L601.57,781.90 L604.56,774.93 L607.64,767.81 L610.79,760.52 L614.03,753.07 L617.35,745.44 L620.77,737.62 L624.28,729.60 L627.90,721.38 L631.62,712.94 L635.46,704.27 L639.42,695.36 L643.51,686.19 L647.73,676.76 L652.10,667.03 L656.63,657.00 L661.31,646.65 L666.18,635.94 L671.23,624.87 L676.49,613.40 L681.96,601.50 L687.68,589.13 L693.65,576.28 L699.89,562.88 L706.45,548.89 L713.34,534.27 L720.59,518.94 L728.25,502.84"/>
</g>
<g clip-path="url(#cp)" stroke="#00FF00" stroke-width="1.15" fill="none">
<path d="M127.89,339.74 L133.35,347.46 L138.88,355.19 L144.50,362.91 L150.18,370.63 L155.94,378.35 L161.76,386.08 L167.65,393.80 L173.60,401.52 L179.61,409.25 L185.67,416.97 L191.79,424.69 L197.95,432.41 L204.17,440.14 L210.42,447.86 L216.72,455.58 L223.06,463.31 L229.43,471.03 L235.84,478.75 L242.28,486.47 L248.74,494.20 L255.23,501.92 L261.74,509.64 L268.26,517.37 L274.78,525.09 L281.29,532.81 L287.79,540.53 L294.26,548.26 L300.69,555.98 L307.07,563.70 L313.39,571.43 L319.65,579.15 L325.83,586.87 L331.94,594.60 L337.98,602.32 L343.94,610.04 L349.83,617.76 L355.65,625.49 L361.39,633.21 L367.06,640.93 L372.64,648.66 L378.16,656.38 L383.59,664.10 L388.95,671.82 L394.23,679.55 L399.43,687.27 L404.54,694.99 L409.56,702.72 L414.45,710.44 L419.21,718.16 L423.83,725.88 L428.30,733.61 L432.59,741.33 L436.70,749.05 L440.61,756.78 L444.30,764.50 L447.77,772.22 L451.00,779.94 L453.98,787.67 L456.69,795.39"/>
<path d="M186.94,339.74 L192.54,347.46 L198.26,355.19 L204.07,362.91 L209.98,370.63 L215.98,378.35 L222.06,386.08 L228.22,393.80 L234.44,401.52 L240.73,409.25 L247.06,416.97 L253.45,424.69 L259.87,432.41 L266.33,440.14 L272.81,447.86 L279.31,455.58 L285.82,463.31 L292.33,471.03 L298.84,478.75 L305.34,486.47 L311.82,494.20 L318.28,501.92 L324.70,509.64 L331.09,517.37 L337.43,525.09 L343.71,532.81 L349.93,540.53 L356.08,548.26 L362.15,555.98 L368.14,563.70 L374.02,571.43 L379.81,579.15 L385.49,586.87 L391.06,594.60 L396.52,602.32 L401.87,610.04 L407.11,617.76 L412.24,625.49 L417.26,633.21 L422.16,640.93 L426.95,648.66 L431.62,656.38 L436.18,664.10 L440.62,671.82 L444.94,679.55 L449.13,687.27 L453.21,694.99 L457.17,702.72 L461.02,710.44 L464.74,718.16 L468.35,725.88 L471.84,733.61 L475.22,741.33 L478.48,749.05 L481.63,756.78 L484.67,764.50 L487.59,772.22 L490.41,779.94 L493.11,787.67 L495.70,795.39"/>
<path d="M256.10,339.74 L262.04,347.46 L268.06,355.19 L274.14,362.91 L280.28,370.63 L286.47,378.35 L292.72,386.08 L299.00,393.80 L305.31,401.52 L311.66,409.25 L318.02,416.97 L324.39,424.69 L330.77,432.41 L337.15,440.14 L343.52,447.86 L349.87,455.58 L356.20,463.31 L362.51,471.03 L368.78,478.75 L375.01,486.47 L381.18,494.20 L387.31,501.92 L393.36,509.64 L399.35,517.37 L405.25,525.09 L411.05,532.81 L416.75,540.53 L422.32,548.26 L427.77,555.98 L433.07,563.70 L438.22,571.43 L443.21,579.15 L448.03,586.87 L452.70,594.60 L457.21,602.32 L461.57,610.04 L465.79,617.76 L469.88,625.49 L473.84,633.21 L477.67,640.93 L481.39,648.66 L485.00,656.38 L488.49,664.10 L491.89,671.82 L495.20,679.55 L498.41,687.27 L501.55,694.99 L504.59,702.72 L507.56,710.44 L510.45,718.16 L513.27,725.88 L516.01,733.61 L518.68,741.33 L521.28,749.05 L523.82,756.78 L526.29,764.50 L528.71,772.22 L531.06,779.94 L533.36,787.67 L535.60,795.39"/>
<path d="M336.79,339.74 L342.79,347.46 L348.84,355.19 L354.95,362.91 L361.08,370.63 L367.25,378.35 L373.43,386.08 L379.61,393.80 L385.79,401.52 L391.95,409.25 L398.08,416.97 L404.17,424.69 L410.20,432.41 L416.18,440.14 L422.08,447.86 L427.90,455.58 L433.62,463.31 L439.24,471.03 L444.73,478.75 L450.10,486.47 L455.33,494.20 L460.41,501.92 L465.33,509.64 L470.09,517.37 L474.71,525.09 L479.18,532.81 L483.51,540.53 L487.72,548.26 L491.81,555.98 L495.79,563.70 L499.65,571.43 L503.42,579.15 L507.10,586.87 L510.68,594.60 L514.17,602.32 L517.56,610.04 L520.87,617.76 L524.09,625.49 L527.23,633.21 L530.28,640.93 L533.24,648.66 L536.13,656.38 L538.93,664.10 L541.66,671.82 L544.31,679.55 L546.88,687.27 L549.38,694.99 L551.81,702.72 L554.17,710.44 L556.47,718.16 L558.70,725.88 L560.88,733.61 L562.99,741.33 L565.05,749.05 L567.06,756.78 L569.02,764.50 L570.92,772.22 L572.79,779.94 L574.61,787.67 L576.39,795.39"/>
<path d="M429.90,339.74 L435.97,347.46 L441.94,355.19 L447.81,362.91 L453.57,370.63 L459.23,378.35 L464.79,386.08 L470.24,393.80 L475.59,401.52 L480.84,409.25 L485.98,416.97 L491.01,424.69 L495.94,432.41 L500.77,440.14 L505.49,447.86 L510.10,455.58 L514.61,463.31 L519.01,471.03 L523.31,478.75 L527.49,486.47 L531.58,494.20 L535.55,501.92 L539.42,509.64 L543.18,517.37 L546.82,525.09 L550.35,532.81 L553.75,540.53 L557.03,548.26 L560.17,555.98 L563.19,563.70 L566.06,571.43 L568.80,579.15 L571.40,586.87 L573.87,594.60 L576.23,602.32 L578.48,610.04 L580.63,617.76 L582.69,625.49 L584.68,633.21 L586.60,640.93 L588.46,648.66 L590.27,656.38 L592.05,664.10 L593.79,671.82 L595.52,679.55 L597.24,687.27 L598.94,694.99 L600.64,702.72 L602.33,710.44 L604.01,718.16 L605.68,725.88 L607.33,733.61 L608.96,741.33 L610.58,749.05 L612.18,756.78 L613.76,764.50 L615.31,772.22 L616.85,779.94 L618.36,787.67 L619.84,795.39"/>
<path d="M530.98,339.74 L535.93,347.46 L540.74,355.19 L545.40,362.91 L549.92,370.63 L554.29,378.35 L558.53,386.08 L562.63,393.80 L566.61,401.52 L570.45,409.25 L574.16,416.97 L577.75,424.69 L581.21,432.41 L584.56,440.14 L587.78,447.86 L590.89,455.58 L593.89,463.31 L596.78,471.03 L599.56,478.75 L602.24,486.47 L604.81,494.20 L607.29,501.92 L609.66,509.64 L611.95,517.37 L614.15,525.09 L616.26,532.81 L618.30,540.53 L620.27,548.26 L622.18,555.98 L624.03,563.70 L625.82,571.43 L627.57,579.15 L629.27,586.87 L630.93,594.60 L632.55,602.32 L634.12,610.04 L635.66,617.76 L637.15,625.49 L638.61,633.21 L640.03,640.93 L641.42,648.66 L642.77,656.38 L644.08,664.10 L645.37,671.82 L646.63,679.55 L647.85,687.27 L649.05,694.99 L650.22,702.72 L651.36,710.44 L652.48,718.16 L653.57,725.88 L654.64,733.61 L655.68,741.33 L656.70,749.05 L657.70,756.78 L658.68,764.50 L659.64,772.22 L660.58,779.94 L661.50,787.67 L662.40,795.39"/>
<path d="M630.29,339.74 L633.24,347.46 L636.10,355.19 L638.85,362.91 L641.52,370.63 L644.09,378.35 L646.58,386.08 L648.98,393.80 L651.30,401.52 L653.53,409.25 L655.69,416.97 L657.76,424.69 L659.77,432.41 L661.70,440.14 L663.56,447.86 L665.35,455.58 L667.07,463.31 L668.74,471.03 L670.34,478.75 L671.88,486.47 L673.37,494.20 L674.80,501.92 L676.18,509.64 L677.51,517.37 L678.79,525.09 L680.03,532.81 L681.23,540.53 L682.39,548.26 L683.51,555.98 L684.60,563.70 L685.66,571.43 L686.69,579.15 L687.69,586.87 L688.67,594.60 L689.63,602.32 L690.56,610.04 L691.47,617.76 L692.37,625.49 L693.24,633.21 L694.10,640.93 L694.94,648.66 L695.77,656.38 L696.58,664.10 L697.38,671.82 L698.17,679.55 L698.95,687.27 L699.72,694.99 L700.48,702.72 L701.23,710.44 L701.97,718.16 L702.69,725.88 L703.41,733.61 L704.10,741.33 L704.78,749.05 L705.45,756.78 L706.10,764.50 L706.73,772.22 L707.34,779.94 L707.94,787.67 L708.51,795.39"/>
</g>
<text x="687.30" y="350.06" transform="rotate(-48.21 687.30 350.06)" font-size="12" fill="#A52A2A" dominant-baseline="central">-10</text>
<text x="687.30" y="449.41" transform="rotate(-48.21 687.30 449.41)" font-size="12" fill="#A52A2A" dominant-baseline="central">0</text>
<text x="710.61" y="522.67" transform="rotate(-48.21 710.61 522.67)" font-size="12" fill="#A52A2A" dominant-baseline="central">10</text>
<text x="756.79" y="570.36" transform="rotate(-48.21 756.79 570.36)" font-size="12" fill="#A52A2A" dominant-baseline="central">20</text>
<text x="802.97" y="618.04" transform="rotate(-48.21 802.97 618.04)" font-size="12" fill="#A52A2A" dominant-baseline="central">30</text>
<text x="825.30" y="692.40" transform="rotate(-48.21 825.30 692.40)" font-size="12" fill="#A52A2A" dominant-baseline="central">40</text>
<text x="825.30" y="791.75" transform="rotate(-48.21 825.30 791.75)" font-size="12" fill="#A52A2A" dominant-baseline="central">50</text>
<text x="217.10" y="803.30" transform="rotate(-60 217.10 803.30)" font-size="12" fill="#00FF00" text-anchor="middle" dominant-baseline="central">1</text>
<text x="292.60" y="803.30" transform="rotate(-60 292.60 803.30)" font-size="12" fill="#00FF00" text-anchor="middle" dominant-baseline="central">2</text>
<text x="339.30" y="803.30" transform="rotate(-60 339.30 803.30)" font-size="12" fill="#00FF00" text-anchor="middle" dominant-baseline="central">3</text>
<text x="401.70" y="803.30" transform="rotate(-60 401.70 803.30)" font-size="12" fill="#00FF00" text-anchor="middle" dominant-baseline="central">5</text>
<text x="462.00" y="803.30" transform="rotate(-60 462.00 803.30)" font-size="12" fill="#00FF00" text-anchor="middle" dominant-baseline="central">8</text>
<text x="517.30" y="803.30" transform="rotate(-60 517.30 803.30)" font-size="12" fill="#00FF00" text-anchor="middle" dominant-baseline="central">12</text>
<text x="589.00" y="803.30" transform="rotate(-60 589.00 803.30)" font-size="12" fill="#00FF00" text-anchor="middle" dominant-baseline="central">20</text>
<g stroke="#000" stroke-opacity="0.9" stroke-width="1" fill="none">
<line x1="68.85" y1="60.5" x2="68.85" y2="795.5"/>
<line x1="61.55" y1="60.50" x2="68.85" y2="60.50"/>
<line x1="61.55" y1="189.50" x2="68.85" y2="189.50"/>
<line x1="61.55" y1="281.50" x2="68.85" y2="281.50"/>
<line x1="61.55" y1="352.60" x2="68.85" y2="352.60"/>
<line x1="61.55" y1="411.00" x2="68.85" y2="411.00"/>
<line x1="61.55" y1="502.50" x2="68.85" y2="502.50"/>
<line x1="61.55" y1="574.30" x2="68.85" y2="574.30"/>
<line x1="61.55" y1="681.60" x2="68.85" y2="681.60"/>
<line x1="61.55" y1="743.50" x2="68.85" y2="743.50"/>
<line x1="61.55" y1="795.50" x2="68.85" y2="795.50"/>
<line x1="95.49" y1="810.9" x2="717.02" y2="810.9"/>
<line x1="95.49" y1="810.9" x2="95.49" y2="818.1"/>
<line x1="184.28" y1="810.9" x2="184.28" y2="818.1"/>
<line x1="273.07" y1="810.9" x2="273.07" y2="818.1"/>
<line x1="361.86" y1="810.9" x2="361.86" y2="818.1"/>
<line x1="450.65" y1="810.9" x2="450.65" y2="818.1"/>
<line x1="539.44" y1="810.9" x2="539.44" y2="818.1"/>
<line x1="628.23" y1="810.9" x2="628.23" y2="818.1"/>
<line x1="717.02" y1="810.9" x2="717.02" y2="818.1"/>
</g>
<text x="52.0" y="59.90" transform="rotate(-90 52.0 59.90)" font-size="15.3" text-anchor="middle" textLength="23.59" lengthAdjust="spacingAndGlyphs">100</text>
<text x="52.0" y="188.90" transform="rotate(-90 52.0 188.90)" font-size="15.3" text-anchor="middle" textLength="23.59" lengthAdjust="spacingAndGlyphs">150</text>
<text x="52.0" y="280.90" transform="rotate(-90 52.0 280.90)" font-size="15.3" text-anchor="middle" textLength="23.59" lengthAdjust="spacingAndGlyphs">200</text>
<text x="52.0" y="352.00" transform="rotate(-90 52.0 352.00)" font-size="15.3" text-anchor="middle" textLength="23.59" lengthAdjust="spacingAndGlyphs">250</text>
<text x="52.0" y="410.40" transform="rotate(-90 52.0 410.40)" font-size="15.3" text-anchor="middle" textLength="23.59" lengthAdjust="spacingAndGlyphs">300</text>
<text x="52.0" y="501.90" transform="rotate(-90 52.0 501.90)" font-size="15.3" text-anchor="middle" textLength="23.59" lengthAdjust="spacingAndGlyphs">400</text>
<text x="52.0" y="573.70" transform="rotate(-90 52.0 573.70)" font-size="15.3" text-anchor="middle" textLength="23.59" lengthAdjust="spacingAndGlyphs">500</text>
<text x="52.0" y="681.00" transform="rotate(-90 52.0 681.00)" font-size="15.3" text-anchor="middle" textLength="23.59" lengthAdjust="spacingAndGlyphs">700</text>
<text x="52.0" y="742.90" transform="rotate(-90 52.0 742.90)" font-size="15.3" text-anchor="middle" textLength="23.59" lengthAdjust="spacingAndGlyphs">850</text>
<text x="52.0" y="794.90" transform="rotate(-90 52.0 794.90)" font-size="15.3" text-anchor="middle" textLength="31.46" lengthAdjust="spacingAndGlyphs">1000</text>
<text x="95.49" y="836.9" font-size="14" text-anchor="middle" textLength="18.62" lengthAdjust="spacingAndGlyphs">-30</text>
<text x="184.28" y="836.9" font-size="14" text-anchor="middle" textLength="18.62" lengthAdjust="spacingAndGlyphs">-20</text>
<text x="273.07" y="836.9" font-size="14" text-anchor="middle" textLength="18.62" lengthAdjust="spacingAndGlyphs">-10</text>
<text x="361.86" y="836.9" font-size="14" text-anchor="middle" textLength="7.16" lengthAdjust="spacingAndGlyphs">0</text>
<text x="450.65" y="836.9" font-size="14" text-anchor="middle" textLength="14.33" lengthAdjust="spacingAndGlyphs">10</text>
<text x="539.44" y="836.9" font-size="14" text-anchor="middle" textLength="14.33" lengthAdjust="spacingAndGlyphs">20</text>
<text x="628.23" y="836.9" font-size="14" text-anchor="middle" textLength="14.33" lengthAdjust="spacingAndGlyphs">30</text>
<text x="717.02" y="836.9" font-size="14" text-anchor="middle" textLength="14.33" lengthAdjust="spacingAndGlyphs">40</text>
<text x="14" y="435.5" transform="rotate(-90 14 435.5)" font-size="12" text-anchor="middle">P (hPa)</text>
<text x="397.9" y="866.8" font-size="14.2" textLength="92.8" lengthAdjust="spacingAndGlyphs">Temperature (C)</text>
<text x="11" y="859" font-size="9.55">dashed black line shows ascent of parcel with max theta-e</text>
<text x="335.0" y="20.8" font-size="14.3" font-weight="bold" textLength="218.5" lengthAdjust="spacing">CSU WRF skew-T for Little Rock</text>
<text x="207.5" y="36.8" font-size="14" textLength="184.3" lengthAdjust="spacingAndGlyphs">init: 0000 UTC Sun 15 Jun 2025</text>
<text x="408.0" y="36.8" font-size="14" textLength="274.2" lengthAdjust="spacingAndGlyphs">00-hr forecast valid 0000 UTC Sun 15 Jun 2025</text>
<path d="M422.48,81.90 L420.40,83.93 L418.33,85.95 L416.28,87.98 L414.24,90.00 L412.23,92.03 L410.23,94.05 L408.25,96.08 L406.28,98.10 L404.34,100.13 L402.42,102.15 L400.51,104.18 L398.62,106.21 L396.75,108.23 L394.90,110.26 L393.07,112.28 L391.26,114.31 L389.47,116.33 L387.70,118.36 L385.95,120.38 L384.22,122.41 L382.51,124.43 L380.82,126.46 L379.15,128.49 L377.50,130.51 L375.87,132.54 L374.26,134.56 L372.67,136.59 L371.10,138.61 L369.56,140.64 L368.03,142.66 L366.53,144.69 L365.05,146.71 L363.59,148.74 L362.16,150.77 L360.74,152.79 L359.35,154.82 L357.98,156.84 L356.63,158.87 L355.31,160.89 L354.00,162.92 L352.72,164.94 L351.47,166.97 L350.24,168.99 L349.03,171.02 L347.84,173.05 L346.68,175.07 L345.54,177.10 L344.43,179.12 L343.34,181.15 L342.27,183.17 L341.23,185.20 L340.21,187.22 L339.22,189.25 L338.25,191.27 L337.31,193.30 L336.79,195.31 L336.45,197.32 L336.12,199.32 L335.81,201.33 L335.51,203.34 L335.23,205.35 L334.96,207.36 L334.72,209.37 L334.49,211.37 L334.28,213.38 L334.09,215.39 L333.92,217.40 L333.78,219.41 L333.66,221.42 L333.56,223.42 L333.49,225.43 L333.44,227.44 L333.43,229.45 L333.44,231.46 L333.48,233.46 L333.55,235.47 L333.65,237.48 L333.79,239.49 L333.96,241.50 L334.16,243.51 L334.40,245.51 L334.67,247.52 L334.98,249.53 L335.33,251.54 L335.72,253.55 L336.15,255.56 L336.62,257.56 L337.13,259.57 L337.68,261.58 L338.28,263.59 L338.92,265.60 L339.61,267.60 L340.33,269.61 L341.10,271.62 L341.91,273.63 L342.75,275.64 L343.63,277.65 L344.55,279.65 L345.50,281.66 L346.47,283.67 L347.48,285.68 L348.52,287.69 L349.58,289.70 L350.67,291.70 L351.78,293.71 L352.91,295.72 L354.06,297.73 L355.23,299.74 L356.42,301.74 L357.62,303.75 L358.84,305.76 L360.07,307.77 L361.31,309.78 L362.56,311.79 L363.82,313.79 L365.08,315.80 L366.35,317.81 L367.62,319.82 L368.89,321.83 L370.17,323.83 L371.46,325.84 L372.74,327.85 L374.03,329.86 L375.33,331.87 L376.62,333.88 L377.92,335.88 L379.22,337.89 L380.52,339.90 L381.82,341.91 L383.13,343.92 L384.43,345.93 L385.74,347.93 L387.05,349.94 L388.36,351.95 L389.67,353.96 L390.97,355.97 L392.28,357.97 L393.59,359.98 L394.90,361.99 L396.20,364.00 L397.51,366.01 L398.81,368.02 L400.11,370.02 L401.41,372.03 L402.71,374.04 L404.01,376.05 L405.30,378.06 L406.59,380.07 L407.88,382.07 L409.16,384.08 L410.44,386.09 L411.72,388.10 L412.99,390.11 L414.26,392.11 L415.53,394.12 L416.79,396.13 L418.04,398.14 L419.29,400.15 L420.53,402.16 L421.77,404.16 L423.00,406.17 L424.23,408.18 L425.45,410.19 L426.66,412.20 L427.87,414.21 L429.06,416.21 L430.26,418.22 L431.44,420.23 L432.62,422.24 L433.78,424.25 L434.94,426.25 L436.09,428.26 L437.24,430.27 L438.37,432.28 L439.49,434.29 L440.61,436.30 L441.72,438.30 L442.81,440.31 L443.90,442.32 L444.98,444.33 L446.06,446.34 L447.13,448.35 L448.19,450.35 L449.24,452.36 L450.30,454.37 L451.34,456.38 L452.39,458.39 L453.43,460.39 L454.46,462.40 L455.50,464.41 L456.53,466.42 L457.56,468.43 L458.59,470.44 L459.62,472.44 L460.65,474.45 L461.68,476.46 L462.71,478.47 L463.74,480.48 L464.78,482.49 L465.81,484.49 L466.85,486.50 L467.90,488.51 L468.94,490.52 L470.00,492.53 L471.05,494.53 L472.12,496.54 L473.19,498.55 L474.26,500.56 L475.34,502.57 L476.43,504.58 L477.53,506.58 L478.62,508.59 L479.71,510.60 L480.80,512.61 L481.88,514.62 L482.95,516.63 L484.01,518.63 L485.05,520.64 L486.07,522.65 L487.06,524.66 L488.03,526.67 L488.98,528.67 L489.89,530.68 L490.77,532.69 L491.61,534.70 L492.41,536.71 L493.17,538.72 L493.88,540.72 L494.55,542.73 L495.17,544.74 L495.77,546.75 L496.34,548.76 L496.88,550.77 L497.40,552.77 L497.91,554.78 L498.42,556.79 L498.92,558.80 L499.42,560.81 L499.93,562.81 L500.45,564.82 L500.99,566.83 L501.55,568.84 L502.12,570.85 L502.71,572.86 L503.32,574.86 L503.94,576.87 L504.58,578.88 L505.24,580.89 L505.91,582.90 L506.60,584.90 L507.31,586.91 L508.03,588.92 L508.78,590.93 L509.54,592.94 L510.32,594.95 L511.11,596.95 L511.92,598.96 L512.75,600.97 L513.60,602.98 L514.47,604.99 L515.35,607.00 L516.26,609.00 L517.18,611.01 L518.11,613.02 L519.07,615.03 L520.04,617.04 L521.04,619.04 L522.05,621.05 L523.08,623.06 L524.12,625.07 L525.19,627.08 L526.27,629.09 L527.38,631.09 L528.50,633.10 L529.64,635.11 L530.80,637.12 L531.98,639.13 L533.17,641.14 L534.39,643.14 L535.63,645.15 L536.88,647.16 L538.15,649.17 L539.45,651.18 L540.76,653.18 L542.09,655.19 L543.44,657.20 L544.81,659.21 L546.20,661.22 L547.61,663.23 L549.04,665.23 L550.49,667.24 L551.95,669.25 L553.44,671.26 L554.95,673.27 L556.48,675.28 L558.03,677.28 L559.59,679.29 L561.18,681.30 L562.85,683.33 L563.53,685.35 L564.23,687.38 L564.95,689.41 L565.69,691.44 L566.45,693.46 L567.24,695.49 L568.04,697.52 L568.87,699.55 L569.72,701.57 L570.59,703.60 L571.48,705.63 L572.39,707.65 L573.31,709.68 L574.26,711.71 L575.23,713.74 L576.21,715.76 L577.21,717.79 L578.23,719.82 L579.27,721.85 L580.32,723.87 L581.39,725.90 L582.48,727.93 L583.59,729.95 L584.71,731.98 L585.84,734.01 L586.99,736.04 L588.16,738.06 L589.34,740.09 L590.53,742.12 L591.74,744.15 L592.96,746.17 L594.19,748.20 L595.44,750.23 L596.70,752.25 L597.97,754.28 L599.26,756.31 L600.55,758.34 L601.86,760.36 L603.18,762.39 L604.51,764.42 L605.85,766.45 L607.20,768.47 L608.56,770.50 L609.00,772.59 L609.86,774.68 L610.66,776.77 L611.42,778.87 L612.15,780.96 L612.85,783.05 L613.56,785.14 L614.27,787.23 L614.99,789.33 L615.76,791.42 L616.56,793.51 L617.42,795.60" stroke="#DF536B" stroke-width="3.2" fill="none" stroke-linejoin="round" stroke-linecap="round"/>
<path d="M275.30,81.10 L276.30,95.00 L277.00,115.00 L277.20,121.70 L276.20,135.00 L273.50,160.00 L271.60,185.00 L275.13,202.70 L275.43,204.71 L275.77,206.71 L276.15,208.72 L276.55,210.73 L277.00,212.73 L277.47,214.74 L277.98,216.74 L278.51,218.75 L279.08,220.76 L279.68,222.76 L280.31,224.77 L280.97,226.78 L281.65,228.78 L282.37,230.79 L283.11,232.79 L283.88,234.80 L284.67,236.81 L285.50,238.81 L286.34,240.82 L287.21,242.83 L288.10,244.83 L289.02,246.84 L289.96,248.84 L290.92,250.85 L291.90,252.86 L292.90,254.86 L293.93,256.87 L294.97,258.88 L296.03,260.88 L297.11,262.89 L298.21,264.89 L299.32,266.90 L300.45,268.91 L301.60,270.91 L302.76,272.92 L303.94,274.93 L305.13,276.93 L306.33,278.94 L307.55,280.94 L308.78,282.95 L310.02,284.96 L311.27,286.96 L312.54,288.97 L313.81,290.98 L315.09,292.98 L316.38,294.99 L317.68,296.99 L318.98,299.00 L320.30,301.01 L321.62,303.01 L322.94,305.02 L324.28,307.03 L325.61,309.03 L326.96,311.04 L328.31,313.05 L329.67,315.05 L331.03,317.06 L332.39,319.06 L333.76,321.07 L335.14,323.08 L336.52,325.08 L337.90,327.09 L339.29,329.10 L340.67,331.10 L342.07,333.11 L343.46,335.11 L344.86,337.12 L346.26,339.13 L347.66,341.13 L349.06,343.14 L350.47,345.15 L351.88,347.15 L353.28,349.16 L354.69,351.16 L356.10,353.17 L357.51,355.18 L358.91,357.18 L360.32,359.19 L361.73,361.20 L363.13,363.20 L364.54,365.21 L365.94,367.21 L367.34,369.22 L368.74,371.23 L370.14,373.23 L371.53,375.24 L372.93,377.25 L374.31,379.25 L375.70,381.26 L377.08,383.26 L378.46,385.27 L379.83,387.28 L381.20,389.28 L382.57,391.29 L383.93,393.30 L385.28,395.30 L386.63,397.31 L387.98,399.32 L389.31,401.32 L390.65,403.33 L391.97,405.33 L393.29,407.34 L394.60,409.35 L395.91,411.35 L397.20,413.36 L398.49,415.37 L399.77,417.37 L401.04,419.38 L402.31,421.38 L403.56,423.39 L404.81,425.40 L406.05,427.40 L407.28,429.41 L408.50,431.42 L409.72,433.42 L410.92,435.43 L412.12,437.43 L413.31,439.44 L414.50,441.45 L415.67,443.45 L416.84,445.46 L418.01,447.47 L419.16,449.47 L420.31,451.48 L421.45,453.48 L422.59,455.49 L423.72,457.50 L424.84,459.50 L425.95,461.51 L427.06,463.52 L428.17,465.52 L429.27,467.53 L430.36,469.53 L431.44,471.54 L432.53,473.55 L433.60,475.55 L434.67,477.56 L435.74,479.57 L436.80,481.57 L437.85,483.58 L438.90,485.58 L439.95,487.59 L440.99,489.60 L442.03,491.60 L443.06,493.61 L444.09,495.62 L445.12,497.62 L446.14,499.63 L447.15,501.64 L448.16,503.64 L449.17,505.65 L450.17,507.65 L451.16,509.66 L452.14,511.67 L453.12,513.67 L454.09,515.68 L455.05,517.69 L456.00,519.69 L456.93,521.70 L457.86,523.70 L458.78,525.71 L459.68,527.72 L460.57,529.72 L461.44,531.73 L462.30,533.74 L463.15,535.74 L463.98,537.75 L464.80,539.75 L465.59,541.76 L466.37,543.77 L467.14,545.77 L467.88,547.78 L468.61,549.79 L469.31,551.79 L469.99,553.80 L470.66,555.80 L471.30,557.81 L471.93,559.82 L472.53,561.82 L473.12,563.83 L473.69,565.84 L474.25,567.84 L474.78,569.85 L475.30,571.85 L475.80,573.86 L476.29,575.87 L476.76,577.87 L477.22,579.88 L477.66,581.89 L478.09,583.89 L478.51,585.90 L478.91,587.91 L479.31,589.91 L479.69,591.92 L480.05,593.92 L480.41,595.93 L480.76,597.94 L481.09,599.94 L481.42,601.95 L481.74,603.96 L482.05,605.96 L482.35,607.97 L482.64,609.97 L482.93,611.98 L483.21,613.99 L483.48,615.99 L483.75,618.00 L484.01,620.01 L484.26,622.01 L484.52,624.02 L484.76,626.02 L485.01,628.03 L485.25,630.04 L485.49,632.04 L485.73,634.05 L485.96,636.06 L486.19,638.06 L486.43,640.07 L486.66,642.07 L486.89,644.08 L487.12,646.09 L487.36,648.09 L487.59,650.10 L487.83,652.11 L488.07,654.11 L488.31,656.12 L488.56,658.12 L488.81,660.13 L489.07,662.14 L489.32,664.14 L489.59,666.15 L489.86,668.16 L490.13,670.16 L490.42,672.17 L490.71,674.17 L491.00,676.18 L491.31,678.19 L491.62,680.19 L491.95,682.20 L495.01,684.23 L497.67,686.25 L500.27,688.28 L502.80,690.31 L505.26,692.34 L507.64,694.36 L509.95,696.39 L512.16,698.42 L514.29,700.45 L516.33,702.47 L518.27,704.50 L520.10,706.53 L521.83,708.56 L523.45,710.58 L524.95,712.61 L526.34,714.64 L527.64,716.67 L528.85,718.69 L529.99,720.72 L531.07,722.75 L532.11,724.78 L533.11,726.80 L534.08,728.83 L535.05,730.86 L536.02,732.89 L537.00,734.91 L538.01,736.94 L539.06,738.97 L540.15,741.00 L541.31,743.02 L542.54,745.05 L543.84,747.08 L545.19,749.11 L546.58,751.13 L547.99,753.16 L549.41,755.19 L550.83,757.22 L552.23,759.24 L553.61,761.27 L554.94,763.30 L556.21,765.33 L557.42,767.35 L558.54,769.38 L559.56,771.41 L560.48,773.44 L561.27,775.46 L561.92,777.49 L562.42,779.52 L562.76,781.55 L562.92,783.57 L562.89,785.60 L567.86,788.02 L574.12,790.45 L580.67,792.88 L586.10,795.30" stroke="#61D04F" stroke-width="3.2" fill="none" stroke-linejoin="round" stroke-linecap="round"/>
<path d="M647.45,795.60 L645.13,793.60 L643.16,791.60 L641.47,789.60 L640.02,787.60 L638.75,785.60 L637.60,783.59 L636.53,781.59 L635.47,779.59 L634.38,777.59 L633.22,775.59 L632.01,773.59 L630.74,771.59 L629.42,769.59 L628.06,767.59 L626.66,765.59 L625.23,763.58 L623.77,761.58 L622.28,759.58 L620.77,757.58 L619.24,755.58 L617.70,753.58 L616.16,751.58 L614.62,749.58 L613.07,747.58 L611.53,745.58 L610.00,743.57 L608.47,741.57 L606.96,739.57 L605.46,737.57 L603.98,735.57 L602.51,733.57 L601.07,731.57 L599.65,729.57 L598.25,727.57 L596.89,725.57 L595.55,723.56 L594.25,721.56 L592.99,719.56 L591.76,717.56 L590.56,715.56 L589.39,713.56 L588.25,711.56 L587.12,709.56 L586.00,707.56 L584.88,705.56 L583.77,703.55 L582.65,701.55 L581.52,699.55 L580.38,697.55 L579.21,695.55 L578.02,693.55 L576.80,691.55 L575.53,689.55 L574.23,687.55 L572.90,685.55 L571.54,683.54 L570.14,681.54 L568.73,679.54 L567.28,677.54 L565.82,675.54 L564.34,673.54 L562.85,671.54 L561.35,669.54 L559.83,667.54 L558.31,665.54 L556.79,663.53 L555.26,661.53 L553.74,659.53 L552.22,657.53 L550.71,655.53 L549.20,653.53 L547.71,651.53 L546.24,649.53 L544.79,647.53 L543.35,645.53 L541.94,643.52 L540.56,641.52 L539.21,639.52 L537.88,637.52 L536.57,635.52 L535.30,633.52 L534.05,631.52 L532.82,629.52 L531.62,627.52 L530.45,625.52 L529.29,623.51 L528.17,621.51 L527.06,619.51 L525.98,617.51 L524.93,615.51 L523.89,613.51 L522.88,611.51 L521.89,609.51 L520.92,607.51 L519.97,605.51 L519.05,603.50 L518.14,601.50 L517.26,599.50 L516.39,597.50 L515.55,595.50 L514.72,593.50 L513.91,591.50 L513.12,589.50 L512.35,587.50 L511.60,585.50 L510.86,583.49 L510.14,581.49 L509.44,579.49 L508.75,577.49 L508.08,575.49 L507.43,573.49 L506.79,571.49 L506.17,569.49 L505.55,567.49 L504.95,565.49 L504.36,563.48 L503.77,561.48 L503.18,559.48 L502.59,557.48 L502.00,555.48 L501.41,553.48 L500.81,551.48 L500.20,549.48 L499.58,547.48 L498.94,545.48 L498.29,543.47 L497.62,541.47 L496.93,539.47 L496.21,537.47 L495.47,535.47 L494.71,533.47 L493.91,531.47 L493.08,529.47 L492.21,527.47 L491.31,525.47 L490.37,523.46 L489.40,521.46 L488.40,519.46 L487.37,517.46 L486.31,515.46 L485.22,513.46 L484.12,511.46 L482.99,509.46 L481.84,507.46 L480.67,505.46 L479.49,503.45 L478.30,501.45 L477.09,499.45 L475.87,497.45 L474.64,495.45 L473.41,493.45 L472.17,491.45 L470.93,489.45 L469.69,487.45 L468.44,485.45 L467.21,483.44 L465.97,481.44 L464.75,479.44 L463.53,477.44 L462.32,475.44 L461.12,473.44 L459.94,471.44 L458.76,469.44 L457.59,467.44 L456.43,465.44 L455.28,463.43 L454.14,461.43 L453.00,459.43 L451.87,457.43 L450.74,455.43 L449.62,453.43 L448.51,451.43 L447.40,449.43 L446.29,447.43 L445.19,445.43 L444.09,443.42 L442.99,441.42 L441.89,439.42 L440.79,437.42 L439.69,435.42 L438.60,433.42 L437.50,431.42 L436.40,429.42 L435.30,427.42 L434.19,425.42 L433.09,423.41 L431.98,421.41 L430.86,419.41 L429.75,417.41 L428.62,415.41 L427.49,413.41 L426.36,411.41 L425.22,409.41 L424.07,407.41 L422.91,405.41 L421.74,403.40 L420.57,401.40 L419.38,399.40 L418.19,397.40 L416.99,395.40 L415.77,393.40 L414.54,391.40 L413.30,389.40 L412.05,387.40 L410.78,385.40 L409.51,383.39 L408.22,381.39 L406.91,379.39 L405.60,377.39 L404.28,375.39 L402.95,373.39 L401.61,371.39 L400.26,369.39 L398.91,367.39 L397.55,365.39 L396.18,363.38 L394.81,361.38 L393.44,359.38 L392.07,357.38 L390.69,355.38 L389.31,353.38 L387.93,351.38 L386.56,349.38 L385.18,347.38 L383.81,345.38 L382.44,343.37 L381.07,341.37 L379.71,339.37 L378.35,337.37 L377.00,335.37 L375.66,333.37 L374.32,331.37 L373.00,329.37 L371.68,327.37 L370.37,325.37 L369.08,323.36 L367.79,321.36 L366.52,319.36 L365.26,317.36 L364.02,315.36 L362.79,313.36 L361.57,311.36 L360.38,309.36 L359.20,307.36 L358.04,305.36 L356.90,303.35 L355.77,301.35 L354.67,299.35 L353.59,297.35 L352.53,295.35 L351.50,293.35 L350.48,291.35 L349.49,289.35 L348.53,287.35 L347.59,285.35 L346.67,283.34 L345.78,281.34 L344.91,279.34 L344.07,277.34 L343.26,275.34 L342.47,273.34 L341.71,271.34 L340.98,269.34 L340.28,267.34 L339.60,265.34 L338.95,263.33 L338.34,261.33 L337.75,259.33 L337.19,257.33 L336.67,255.33 L336.17,253.33 L335.71,251.33 L335.27,249.33 L334.87,247.33 L334.51,245.33 L334.17,243.32 L333.87,241.32 L333.61,239.32 L333.37,237.32 L333.18,235.32 L333.02,233.32 L332.89,231.32 L332.80,229.32 L332.75,227.32 L332.73,225.32 L332.75,223.31 L332.81,221.31 L332.91,219.31 L333.05,217.31 L333.22,215.31 L333.44,213.31 L333.69,211.31 L333.99,209.31 L334.32,207.31 L334.70,205.31 L335.12,203.30 L335.58,201.30 L336.09,199.30 L336.63,197.30 L337.22,195.30 L337.31,193.30 L338.25,191.27 L339.22,189.25 L340.21,187.22 L341.23,185.20 L342.27,183.17 L343.34,181.15 L344.43,179.12 L345.54,177.10 L346.68,175.07 L347.84,173.05 L349.03,171.02 L350.24,168.99 L351.47,166.97 L352.72,164.94 L354.00,162.92 L355.31,160.89 L356.63,158.87 L357.98,156.84 L359.35,154.82 L360.74,152.79 L362.16,150.77 L363.59,148.74 L365.05,146.71 L366.53,144.69 L368.03,142.66 L369.56,140.64 L371.10,138.61 L372.67,136.59 L374.26,134.56 L375.87,132.54 L377.50,130.51 L379.15,128.49 L380.82,126.46 L382.51,124.43 L384.22,122.41 L385.95,120.38 L387.70,118.36 L389.47,116.33 L391.26,114.31 L393.07,112.28 L394.90,110.26 L396.75,108.23 L398.62,106.21 L400.51,104.18 L402.42,102.15 L404.34,100.13 L406.28,98.10 L408.25,96.08 L410.23,94.05 L412.23,92.03 L414.24,90.00 L416.28,87.98 L418.33,85.95 L420.40,83.93 L422.48,81.90" stroke="#FF0000" stroke-width="1.1" fill="none" stroke-dasharray="3.0,3.6" stroke-dashoffset="0.06" stroke-linecap="round"/>
<path d="M645.20,794.30 L632.50,785.20 L623.00,780.35 L622.93,780.35 L622.50,777.55 L622.06,774.74 L621.63,771.93 L621.11,769.12 L620.57,766.31 L620.03,763.50 L619.49,760.69 L618.94,757.88 L618.39,755.07 L617.84,752.26 L617.29,749.45 L616.74,746.64 L616.18,743.83 L615.63,741.02 L615.07,738.21 L614.50,735.40 L613.94,732.59 L613.37,729.78 L612.80,726.97 L612.23,724.17 L611.65,721.36 L611.08,718.55 L610.49,715.74 L609.91,712.93 L609.32,710.12 L608.73,707.31 L608.13,704.50 L607.54,701.69 L606.93,698.88 L606.33,696.07 L605.72,693.26 L605.10,690.45 L604.48,687.64 L603.86,684.83 L603.23,682.02 L602.60,679.21 L601.96,676.40 L601.32,673.60 L600.67,670.79 L600.02,667.98 L599.36,665.17 L598.70,662.36 L598.03,659.55 L597.36,656.74 L596.68,653.93 L595.99,651.12 L595.30,648.31 L594.60,645.50 L593.89,642.69 L593.18,639.88 L592.46,637.07 L591.73,634.26 L591.00,631.45 L590.26,628.64 L589.51,625.83 L588.76,623.03 L588.00,620.22 L587.23,617.41 L586.45,614.60 L585.66,611.79 L584.86,608.98 L584.06,606.17 L583.25,603.36 L582.42,600.55 L581.59,597.74 L580.75,594.93 L579.90,592.12 L579.04,589.31 L578.17,586.50 L577.29,583.69 L576.40,580.88 L575.50,578.07 L574.59,575.26 L573.67,572.45 L572.74,569.65 L571.79,566.84 L570.84,564.03 L569.87,561.22 L568.89,558.41 L567.90,555.60 L566.89,552.79 L565.88,549.98 L564.85,547.17 L563.81,544.36 L562.75,541.55 L561.68,538.74 L560.60,535.93 L559.51,533.12 L558.40,530.31 L557.28,527.50 L556.14,524.69 L554.99,521.88 L553.82,519.08 L552.64,516.27 L551.44,513.46 L550.23,510.65 L549.00,507.84 L547.76,505.03 L546.50,502.22 L545.23,499.41 L543.94,496.60 L542.63,493.79 L541.31,490.98 L539.97,488.17 L538.61,485.36 L537.24,482.55 L535.85,479.74 L534.44,476.93 L533.02,474.12 L531.57,471.31 L530.11,468.50 L528.64,465.70 L527.14,462.89 L525.63,460.08 L524.10,457.27 L522.55,454.46 L520.98,451.65 L519.40,448.84 L517.80,446.03 L516.17,443.22 L514.54,440.41 L512.88,437.60 L511.20,434.79 L509.51,431.98 L507.80,429.17 L506.07,426.36 L504.33,423.55 L502.56,420.74 L500.78,417.93 L498.98,415.13 L497.17,412.32 L495.34,409.51 L493.49,406.70 L491.62,403.89 L489.74,401.08 L487.84,398.27 L485.92,395.46 L483.99,392.65 L482.05,389.84 L480.09,387.03 L478.11,384.22 L476.12,381.41 L474.12,378.60 L472.10,375.79 L470.07,372.98 L468.02,370.17 L465.97,367.36 L463.90,364.56 L461.81,361.75 L459.72,358.94 L457.62,356.13 L455.50,353.32 L453.38,350.51 L451.24,347.70 L449.10,344.89 L446.95,342.08 L444.78,339.27 L442.62,336.46 L440.44,333.65 L438.26,330.84 L436.07,328.03 L433.87,325.22 L431.67,322.41 L429.46,319.60 L427.25,316.79 L425.04,313.98 L422.82,311.18 L420.60,308.37 L418.38,305.56 L416.15,302.75 L413.92,299.94 L411.69,297.13 L409.46,294.32 L407.23,291.51 L405.00,288.70 L402.77,285.89 L400.53,283.08 L398.31,280.27 L396.08,277.46 L393.85,274.65 L391.63,271.84 L389.40,269.03 L387.19,266.22 L384.97,263.41 L382.76,260.61 L380.55,257.80 L378.34,254.99 L376.14,252.18 L373.95,249.37 L371.76,246.56 L369.57,243.75 L367.39,240.94 L365.21,238.13 L363.05,235.32 L360.88,232.51 L358.73,229.70 L356.58,226.89 L354.43,224.08 L352.29,221.27 L350.16,218.46 L348.04,215.65 L345.92,212.84 L343.82,210.03 L341.72,207.23 L339.62,204.42 L337.54,201.61 L335.46,198.80 L333.39,195.99 L331.33,193.18 L329.27,190.37 L327.23,187.56 L325.19,184.75 L323.17,181.94 L321.15,179.13 L319.13,176.32 L317.13,173.51 L315.14,170.70 L313.15,167.89 L311.18,165.08 L309.21,162.27 L307.25,159.46 L305.30,156.66 L303.36,153.85 L301.43,151.04 L299.51,148.23 L297.60,145.42 L295.69,142.61 L293.80,139.80 L291.91,136.99 L290.03,134.18 L288.16,131.37 L286.31,128.56 L284.46,125.75 L282.61,122.94 L280.78,120.13 L278.96,117.32 L277.15,114.51 L275.34,111.70 L273.55,108.89 L271.76,106.09 L269.99,103.28 L268.25,100.47 L266.51,97.66 L264.79,94.85 L263.07,92.04 L261.37,89.23 L259.67,86.42 L257.99,83.61 L256.32,80.80" stroke="#000" stroke-width="1.9" fill="none" stroke-dasharray="6.8,8.19" stroke-dashoffset="12.16" stroke-linecap="round" stroke-linejoin="round"/>
<line x1="766.5" y1="30" x2="766.5" y2="841" stroke="#000" stroke-opacity="0.8" stroke-width="1"/>
<g stroke="#000" stroke-width="1" fill="none" stroke-linecap="round">
<path d="M766.5,81.8 L740.5,80.5 M740.5,80.5 L740.9,73.0 M744.2,80.7 L744.4,76.9"/>
<path d="M766.5,111.0 L740.6,112.5 M740.6,112.5 L740.2,105.0 M744.3,112.3 L744.1,108.5"/>
<path d="M766.5,139.1 L740.6,141.4 M740.6,141.4 L739.9,133.9 M744.3,141.1 L743.6,133.6"/>
<path d="M766.5,166.7 L740.6,170.0 M740.6,170.0 L739.7,162.6 M744.3,169.5 L743.3,162.1"/>
<path d="M766.5,193.9 L740.6,196.7 M740.6,196.7 L739.8,189.2 M744.3,196.3 L743.5,188.8 M748.0,195.9 L747.5,192.1"/>
<path d="M766.5,220.2 L740.6,219.4 M740.6,219.4 L740.8,211.9 M744.3,219.5 L744.5,212.0"/>
<path d="M766.5,246.1 L741.1,240.6 M741.1,240.6 L742.7,233.3 M744.7,241.4 L745.5,237.7"/>
<path d="M766.5,271.4 L744.2,258.9 M744.2,258.9 L747.9,252.4"/>
<path d="M766.5,296.1 L745.3,281.7 M745.3,281.7 L749.5,275.5"/>
<path d="M766.5,320.6 L743.9,308.6 M743.9,308.6 L747.4,302.0"/>
<path d="M766.5,345.3 L742.0,336.7 M742.0,336.7 L744.5,329.6"/>
<path d="M766.5,368.7 L741.4,361.7 M741.4,361.7 L743.4,354.5"/>
<path d="M766.5,392.2 L741.4,384.4 M741.4,384.4 L743.6,377.2"/>
<path d="M766.5,415.0 L741.7,407.2 M741.7,407.2 L744.0,400.0"/>
<path d="M766.5,437.2 L741.4,430.0 M741.4,430.0 L743.5,422.8"/>
<path d="M766.5,459.4 L741.4,452.2 M741.4,452.2 L743.5,445.0"/>
<path d="M766.5,481.7 L741.7,473.6 M741.7,473.6 L744.0,466.5 M745.2,474.7 L746.4,471.1"/>
<path d="M766.5,503.1 L742.2,493.9 M742.2,493.9 L744.9,486.9 M745.7,495.2 L747.0,491.7"/>
<path d="M766.5,524.2 L742.4,514.4 M742.4,514.4 L745.2,507.5 M745.8,515.8 L747.3,512.3"/>
<path d="M766.5,545.6 L742.2,536.1 M742.2,536.1 L744.9,529.1 M745.6,537.4 L747.0,533.9"/>
<path d="M766.5,566.4 L741.7,558.9 M741.7,558.9 L743.9,551.7 M745.2,560.0 L746.3,556.3"/>
<path d="M766.5,587.2 L741.1,583.3 M741.1,583.3 L742.2,575.9 M744.8,583.9 L745.3,580.1"/>
<path d="M766.5,606.7 L740.6,605.3 M740.6,605.3 L741.0,597.8 M744.3,605.5 L744.5,601.7"/>
<path d="M766.5,627.6 L741.1,622.2 M741.1,622.2 L742.7,614.9 M744.7,623.0 L745.5,619.3"/>
<path d="M766.5,647.2 L741.7,641.1 M741.7,641.1 L743.5,633.8 M745.3,642.0 L746.2,638.3"/>
<path d="M766.5,665.6 L741.7,657.8 M741.7,657.8 L744.0,650.6"/>
<path d="M766.5,682.2 L741.7,675.0 M741.7,675.0 L743.8,667.8"/>
<path d="M766.5,697.8 L741.7,693.3 M741.7,693.3 L743.0,685.9"/>
<path d="M766.5,711.7 L740.6,709.4 M740.6,709.4 L741.3,701.9"/>
<path d="M766.5,723.9 L740.6,726.1 M740.6,726.1 L740.0,718.6"/>
<path d="M766.5,734.4 L742.8,743.9 M742.8,743.9 L740.0,736.9"/>
<path d="M766.5,744.4 L745.0,757.8 M745.0,757.8 L741.0,751.4"/>
<path d="M766.5,753.3 L746.0,768.0 M746.0,768.0 L741.6,761.9"/>
<path d="M766.5,760.5 L746.5,775.0 M746.5,775.0 L742.1,768.9"/>
<path d="M766.5,767.0 L745.9,779.6"/>
<path d="M766.5,772.3 L745.9,779.6"/>
<path d="M766.5,777.3 L745.9,779.6"/>
<path d="M766.5,781.3 L745.9,779.6"/>
<path d="M766.5,784.3 L745.9,779.6"/>
<path d="M766.5,787.3 L745.9,779.6"/>
<path d="M766.5,790.0 L745.9,779.6"/>
<path d="M766.5,792.7 L745.9,779.6"/>
<path d="M766.5,795.3 L745.9,779.6"/>
<path d="M745.9,779.6 L740.3,778.2 M745.9,779.6 L740.8,780.6"/>
</g>
<circle cx="188.9" cy="160.0" r="95.50" fill="#fff" stroke="none"/>
<g stroke="#BEBEBE" stroke-width="1" fill="none">
<circle cx="188.9" cy="160.0" r="19.10"/>
<circle cx="188.9" cy="160.0" r="38.20"/>
<circle cx="188.9" cy="160.0" r="57.30"/>
<circle cx="188.9" cy="160.0" r="76.40"/>
<circle cx="188.9" cy="160.0" r="95.50"/>
</g>
<text x="188.9" y="160.00" font-size="9" text-anchor="middle" dominant-baseline="central">0</text>
<text x="188.9" y="179.10" font-size="9" text-anchor="middle" dominant-baseline="central">5</text>
<text x="188.9" y="198.20" font-size="9" text-anchor="middle" dominant-baseline="central">10</text>
<text x="188.9" y="217.30" font-size="9" text-anchor="middle" dominant-baseline="central">15</text>
<text x="188.9" y="236.40" font-size="9" text-anchor="middle" dominant-baseline="central">20</text>
<text x="188.9" y="255.50" font-size="9" text-anchor="middle" dominant-baseline="central">25</text>
<path d="M195.60,168.00 L196.40,167.60 L211.50,157.80 L223.40,134.70 L235.20,134.70 L234.80,156.90 L231.40,173.20 L248.30,175.80 L256.80,166.00 L253.40,180.30" stroke="#FF0000" stroke-width="2" fill="none" stroke-linejoin="round"/>
<circle cx="195.6" cy="168.0" r="2.85" fill="#FF0000"/>
<circle cx="196.4" cy="167.6" r="2.85" fill="#FF0000"/>
<circle cx="211.5" cy="157.8" r="2.85" fill="#FF0000"/>
<circle cx="223.4" cy="134.7" r="2.85" fill="#FF0000"/>
<circle cx="235.2" cy="134.7" r="2.85" fill="#FF0000"/>
<circle cx="234.8" cy="156.9" r="2.85" fill="#FF0000"/>
<circle cx="231.4" cy="173.2" r="2.85" fill="#FF0000"/>
<circle cx="248.3" cy="175.8" r="2.85" fill="#FF0000"/>
<circle cx="256.8" cy="166.0" r="2.85" fill="#FF0000"/>
<circle cx="253.4" cy="180.3" r="2.85" fill="#FF0000"/>
<text x="191.0" y="167.0" font-size="9" fill="#FF0000" text-anchor="middle" dominant-baseline="central">0</text>
<text x="203.2" y="167.0" font-size="9" fill="#FF0000" text-anchor="middle" dominant-baseline="central">1</text>
<text x="211.0" y="154.3" font-size="9" fill="#FF0000" text-anchor="middle" dominant-baseline="central">0.5</text>
<text x="218.3" y="130.4" font-size="9" fill="#FF0000" text-anchor="middle" dominant-baseline="central">1</text>
<text x="230.0" y="128.4" font-size="9" fill="#FF0000" text-anchor="middle" dominant-baseline="central">1.5</text>
<text x="233.0" y="149.3" font-size="9" fill="#FF0000" text-anchor="middle" dominant-baseline="central">2</text>
<text x="233.0" y="165.5" font-size="9" fill="#FF0000" text-anchor="middle" dominant-baseline="central">3</text>
<text x="250.3" y="166.7" font-size="9" fill="#FF0000" text-anchor="middle" dominant-baseline="central">4</text>
<text x="256.1" y="154.2" font-size="9" fill="#FF0000" text-anchor="middle" dominant-baseline="central">5</text>
<text x="253.0" y="172.0" font-size="9" fill="#FF0000" text-anchor="middle" dominant-baseline="central">6</text>
<rect x="613.7" y="60.5" width="114.2" height="258.9" fill="#fff" stroke="#000" stroke-opacity="0.78" stroke-width="1"/>
<text x="630.2" y="75.20" font-size="9.15" xml:space="preserve">surface parcel:</text>
<text x="630.2" y="86.00" font-size="9.15" xml:space="preserve">CAPE = 2959.2 J/kg</text>
<text x="630.2" y="96.80" font-size="9.15" xml:space="preserve">CIN = 27 J/kg</text>
<text x="630.2" y="107.60" font-size="9.15" xml:space="preserve">LCL = 951 hPa</text>
<text x="630.2" y="118.40" font-size="9.15" xml:space="preserve">LFC = 879 hPa</text>
<text x="630.2" y="140.00" font-size="9.15" xml:space="preserve">mean-layer parcel:</text>
<text x="630.2" y="150.80" font-size="9.15" xml:space="preserve">CAPE = 1639.2 J/kg</text>
<text x="630.2" y="161.60" font-size="9.15" xml:space="preserve">CIN = 59.3 J/kg</text>
<text x="630.2" y="172.40" font-size="9.15" xml:space="preserve">LCL = 903 hPa</text>
<text x="630.2" y="183.20" font-size="9.15" xml:space="preserve">LFC = 808 hPa</text>
<text x="630.2" y="204.80" font-size="9.15" xml:space="preserve" textLength="84.7" lengthAdjust="spacingAndGlyphs">most-unstable parcel:</text>
<text x="630.2" y="215.60" font-size="9.15" xml:space="preserve">CAPE = 2959.2 J/kg</text>
<text x="630.2" y="226.40" font-size="9.15" xml:space="preserve">CIN = 27 J/kg</text>
<text x="630.2" y="237.20" font-size="9.15" xml:space="preserve">LCL = 951 hPa</text>
<text x="630.2" y="248.00" font-size="9.15" xml:space="preserve">LFC = 879 hPa</text>
<text x="630.2" y="258.80" font-size="9.15" xml:space="preserve">source = 1002 hPa</text>
<text x="630.2" y="280.40" font-size="9.15" xml:space="preserve">PW =  49.2 mm</text>
<text x="630.2" y="302.00" font-size="9.15" xml:space="preserve" textLength="93.8" lengthAdjust="spacingAndGlyphs">0--6-km shear= 15.4 kt</text>
<text x="630.2" y="312.80" font-size="9.15" xml:space="preserve" textLength="93.8" lengthAdjust="spacingAndGlyphs">0--1-km shear= 11.3 kt</text>
</svg>
</body></html>
